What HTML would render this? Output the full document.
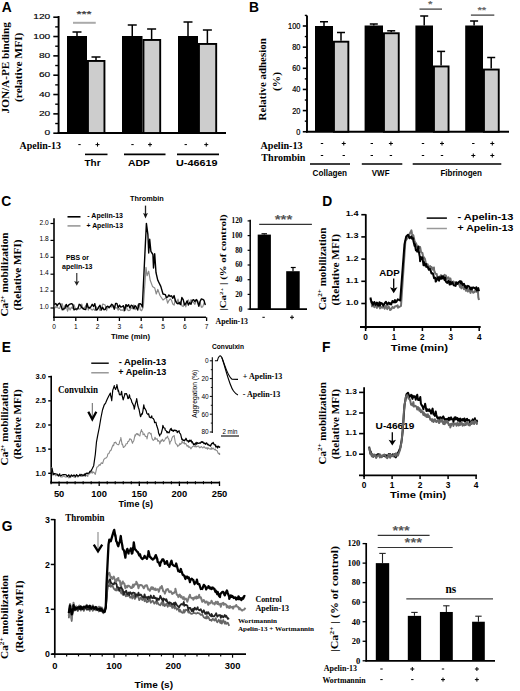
<!DOCTYPE html>
<html><head><meta charset="utf-8"><style>
html,body{margin:0;padding:0;background:#fff;}
svg{display:block;}
</style></head><body>
<svg width="520" height="691" viewBox="0 0 520 691" shape-rendering="auto">
<rect width="520" height="691" fill="#fff"/>
<text x="1.65" y="12" font-family="'Liberation Sans', sans-serif" font-size="13.8" font-weight="bold" fill="#000">A</text>
<line x1="58.6" y1="16" x2="58.6" y2="134" stroke="#000" stroke-width="1.9" stroke-linecap="butt"/>
<line x1="57.6" y1="133" x2="226" y2="133" stroke="#000" stroke-width="1.9" stroke-linecap="butt"/>
<line x1="53.3" y1="133.2" x2="58.6" y2="133.2" stroke="#000" stroke-width="1.6" stroke-linecap="butt"/>
<line x1="53.3" y1="113.87" x2="58.6" y2="113.87" stroke="#000" stroke-width="1.6" stroke-linecap="butt"/>
<line x1="53.3" y1="94.53" x2="58.6" y2="94.53" stroke="#000" stroke-width="1.6" stroke-linecap="butt"/>
<line x1="53.3" y1="75.2" x2="58.6" y2="75.2" stroke="#000" stroke-width="1.6" stroke-linecap="butt"/>
<line x1="53.3" y1="55.87" x2="58.6" y2="55.87" stroke="#000" stroke-width="1.6" stroke-linecap="butt"/>
<line x1="53.3" y1="36.53" x2="58.6" y2="36.53" stroke="#000" stroke-width="1.6" stroke-linecap="butt"/>
<line x1="53.3" y1="17.2" x2="58.6" y2="17.2" stroke="#000" stroke-width="1.6" stroke-linecap="butt"/>
<line x1="55.2" y1="123.53" x2="58.6" y2="123.53" stroke="#000" stroke-width="1.4" stroke-linecap="butt"/>
<line x1="55.2" y1="104.2" x2="58.6" y2="104.2" stroke="#000" stroke-width="1.4" stroke-linecap="butt"/>
<line x1="55.2" y1="84.87" x2="58.6" y2="84.87" stroke="#000" stroke-width="1.4" stroke-linecap="butt"/>
<line x1="55.2" y1="65.53" x2="58.6" y2="65.53" stroke="#000" stroke-width="1.4" stroke-linecap="butt"/>
<line x1="55.2" y1="46.2" x2="58.6" y2="46.2" stroke="#000" stroke-width="1.4" stroke-linecap="butt"/>
<line x1="55.2" y1="26.87" x2="58.6" y2="26.87" stroke="#000" stroke-width="1.4" stroke-linecap="butt"/>
<text x="44.55" y="135.4" font-family="'Liberation Sans', sans-serif" font-size="7.9" font-weight="normal" fill="#000" textLength="5.65" lengthAdjust="spacingAndGlyphs" stroke="#000" stroke-width="0.15">0</text>
<text x="38.9" y="116.07" font-family="'Liberation Sans', sans-serif" font-size="7.9" font-weight="normal" fill="#000" textLength="11.3" lengthAdjust="spacingAndGlyphs" stroke="#000" stroke-width="0.15">20</text>
<text x="38.9" y="96.73" font-family="'Liberation Sans', sans-serif" font-size="7.9" font-weight="normal" fill="#000" textLength="11.3" lengthAdjust="spacingAndGlyphs" stroke="#000" stroke-width="0.15">40</text>
<text x="38.9" y="77.4" font-family="'Liberation Sans', sans-serif" font-size="7.9" font-weight="normal" fill="#000" textLength="11.3" lengthAdjust="spacingAndGlyphs" stroke="#000" stroke-width="0.15">60</text>
<text x="38.9" y="58.07" font-family="'Liberation Sans', sans-serif" font-size="7.9" font-weight="normal" fill="#000" textLength="11.3" lengthAdjust="spacingAndGlyphs" stroke="#000" stroke-width="0.15">80</text>
<text x="33.25" y="38.73" font-family="'Liberation Sans', sans-serif" font-size="7.9" font-weight="normal" fill="#000" textLength="16.95" lengthAdjust="spacingAndGlyphs" stroke="#000" stroke-width="0.15">100</text>
<text x="33.25" y="19.4" font-family="'Liberation Sans', sans-serif" font-size="7.9" font-weight="normal" fill="#000" textLength="16.95" lengthAdjust="spacingAndGlyphs" stroke="#000" stroke-width="0.15">120</text>
<text transform="translate(9,113.4) rotate(-90)" x="0" y="0" font-family="'Liberation Serif', serif" font-size="10.3" font-weight="bold" fill="#000" textLength="91.2" lengthAdjust="spacingAndGlyphs">JON/A-PE binding</text>
<text transform="translate(21.6,102) rotate(-90)" x="0" y="0" font-family="'Liberation Serif', serif" font-size="10.3" font-weight="bold" fill="#000" textLength="69.4" lengthAdjust="spacingAndGlyphs">(relative MFI)</text>
<line x1="77" y1="36" x2="77" y2="32" stroke="#000" stroke-width="1.5" stroke-linecap="butt"/>
<line x1="72.5" y1="32" x2="81.5" y2="32" stroke="#000" stroke-width="1.5" stroke-linecap="butt"/>
<rect x="67" y="36" width="20" height="97" fill="#000"/>
<line x1="96" y1="60" x2="96" y2="57" stroke="#000" stroke-width="1.5" stroke-linecap="butt"/>
<line x1="91.5" y1="57" x2="100.5" y2="57" stroke="#000" stroke-width="1.5" stroke-linecap="butt"/>
<rect x="87.95" y="60.95" width="16.5" height="72.05" fill="#cdcdcd" stroke="#000" stroke-width="1.9"/>
<line x1="132.25" y1="36" x2="132.25" y2="25" stroke="#000" stroke-width="1.5" stroke-linecap="butt"/>
<line x1="127.75" y1="25" x2="136.75" y2="25" stroke="#000" stroke-width="1.5" stroke-linecap="butt"/>
<rect x="122" y="36" width="20.5" height="97" fill="#000"/>
<line x1="151.62" y1="39" x2="151.62" y2="29" stroke="#000" stroke-width="1.5" stroke-linecap="butt"/>
<line x1="147.12" y1="29" x2="156.12" y2="29" stroke="#000" stroke-width="1.5" stroke-linecap="butt"/>
<rect x="143.45" y="39.95" width="16.75" height="93.05" fill="#cdcdcd" stroke="#000" stroke-width="1.9"/>
<line x1="188" y1="36" x2="188" y2="22" stroke="#000" stroke-width="1.5" stroke-linecap="butt"/>
<line x1="183.5" y1="22" x2="192.5" y2="22" stroke="#000" stroke-width="1.5" stroke-linecap="butt"/>
<rect x="178" y="36" width="20" height="97" fill="#000"/>
<line x1="207.38" y1="43" x2="207.38" y2="30" stroke="#000" stroke-width="1.5" stroke-linecap="butt"/>
<line x1="202.88" y1="30" x2="211.88" y2="30" stroke="#000" stroke-width="1.5" stroke-linecap="butt"/>
<rect x="198.95" y="43.95" width="17.25" height="89.05" fill="#cdcdcd" stroke="#000" stroke-width="1.9"/>
<line x1="73" y1="22.8" x2="95.75" y2="22.8" stroke="#aaa" stroke-width="2" stroke-linecap="butt"/>
<text x="76.5" y="16.6" font-family="'Liberation Sans', sans-serif" font-size="9.5" font-weight="bold" fill="#444" textLength="15" lengthAdjust="spacingAndGlyphs">***</text>
<text x="19.5" y="149" font-family="'Liberation Serif', serif" font-size="9.5" font-weight="bold" fill="#000" textLength="41.5" lengthAdjust="spacingAndGlyphs">Apelin-13</text>
<line x1="78.3" y1="144.6" x2="80.7" y2="144.6" stroke="#000" stroke-width="1" stroke-linecap="butt"/>
<line x1="95.5" y1="144.6" x2="99.5" y2="144.6" stroke="#000" stroke-width="1" stroke-linecap="butt"/>
<line x1="97.5" y1="142.6" x2="97.5" y2="146.6" stroke="#000" stroke-width="1" stroke-linecap="butt"/>
<line x1="131.3" y1="144.6" x2="133.7" y2="144.6" stroke="#000" stroke-width="1" stroke-linecap="butt"/>
<line x1="148" y1="144.6" x2="152" y2="144.6" stroke="#000" stroke-width="1" stroke-linecap="butt"/>
<line x1="150" y1="142.6" x2="150" y2="146.6" stroke="#000" stroke-width="1" stroke-linecap="butt"/>
<line x1="184.55" y1="144.6" x2="186.95" y2="144.6" stroke="#000" stroke-width="1" stroke-linecap="butt"/>
<line x1="204.25" y1="144.6" x2="208.25" y2="144.6" stroke="#000" stroke-width="1" stroke-linecap="butt"/>
<line x1="206.25" y1="142.6" x2="206.25" y2="146.6" stroke="#000" stroke-width="1" stroke-linecap="butt"/>
<line x1="85" y1="154.4" x2="107.5" y2="154.4" stroke="#000" stroke-width="1.6" stroke-linecap="butt"/>
<line x1="124" y1="154.4" x2="165.5" y2="154.4" stroke="#000" stroke-width="1.6" stroke-linecap="butt"/>
<line x1="177" y1="154.4" x2="219" y2="154.4" stroke="#000" stroke-width="1.6" stroke-linecap="butt"/>
<text x="84.5" y="166.3" font-family="'Liberation Sans', sans-serif" font-size="9.5" font-weight="bold" fill="#000" textLength="16" lengthAdjust="spacingAndGlyphs">Thr</text>
<text x="128" y="166.4" font-family="'Liberation Sans', sans-serif" font-size="9.5" font-weight="bold" fill="#000" textLength="22" lengthAdjust="spacingAndGlyphs">ADP</text>
<text x="176" y="166.4" font-family="'Liberation Sans', sans-serif" font-size="9.5" font-weight="bold" fill="#000" textLength="41.5" lengthAdjust="spacingAndGlyphs">U-46619</text>
<text x="249.1" y="12.2" font-family="'Liberation Sans', sans-serif" font-size="13.8" font-weight="bold" fill="#000">B</text>
<line x1="307" y1="15.5" x2="307" y2="132.5" stroke="#000" stroke-width="1.9" stroke-linecap="butt"/>
<line x1="306" y1="131.75" x2="509" y2="131.75" stroke="#000" stroke-width="1.9" stroke-linecap="butt"/>
<line x1="302.8" y1="131.75" x2="307" y2="131.75" stroke="#000" stroke-width="1.6" stroke-linecap="butt"/>
<line x1="302.8" y1="110.6" x2="307" y2="110.6" stroke="#000" stroke-width="1.6" stroke-linecap="butt"/>
<line x1="302.8" y1="89.45" x2="307" y2="89.45" stroke="#000" stroke-width="1.6" stroke-linecap="butt"/>
<line x1="302.8" y1="68.3" x2="307" y2="68.3" stroke="#000" stroke-width="1.6" stroke-linecap="butt"/>
<line x1="302.8" y1="47.15" x2="307" y2="47.15" stroke="#000" stroke-width="1.6" stroke-linecap="butt"/>
<line x1="302.8" y1="26" x2="307" y2="26" stroke="#000" stroke-width="1.6" stroke-linecap="butt"/>
<line x1="304.8" y1="121.17" x2="307" y2="121.17" stroke="#000" stroke-width="1.4" stroke-linecap="butt"/>
<line x1="304.8" y1="100.03" x2="307" y2="100.03" stroke="#000" stroke-width="1.4" stroke-linecap="butt"/>
<line x1="304.8" y1="78.88" x2="307" y2="78.88" stroke="#000" stroke-width="1.4" stroke-linecap="butt"/>
<line x1="304.8" y1="57.72" x2="307" y2="57.72" stroke="#000" stroke-width="1.4" stroke-linecap="butt"/>
<line x1="304.8" y1="36.57" x2="307" y2="36.57" stroke="#000" stroke-width="1.4" stroke-linecap="butt"/>
<line x1="304.8" y1="15.42" x2="307" y2="15.42" stroke="#000" stroke-width="1.4" stroke-linecap="butt"/>
<text x="296.3" y="134.65" font-family="'Liberation Sans', sans-serif" font-size="8.2" font-weight="normal" fill="#000" textLength="4.1" lengthAdjust="spacingAndGlyphs" stroke="#000" stroke-width="0.2">0</text>
<text x="292.2" y="113.5" font-family="'Liberation Sans', sans-serif" font-size="8.2" font-weight="normal" fill="#000" textLength="8.2" lengthAdjust="spacingAndGlyphs" stroke="#000" stroke-width="0.2">20</text>
<text x="292.2" y="92.35" font-family="'Liberation Sans', sans-serif" font-size="8.2" font-weight="normal" fill="#000" textLength="8.2" lengthAdjust="spacingAndGlyphs" stroke="#000" stroke-width="0.2">40</text>
<text x="292.2" y="71.2" font-family="'Liberation Sans', sans-serif" font-size="8.2" font-weight="normal" fill="#000" textLength="8.2" lengthAdjust="spacingAndGlyphs" stroke="#000" stroke-width="0.2">60</text>
<text x="292.2" y="50.05" font-family="'Liberation Sans', sans-serif" font-size="8.2" font-weight="normal" fill="#000" textLength="8.2" lengthAdjust="spacingAndGlyphs" stroke="#000" stroke-width="0.2">80</text>
<text x="288.1" y="28.9" font-family="'Liberation Sans', sans-serif" font-size="8.2" font-weight="normal" fill="#000" textLength="12.3" lengthAdjust="spacingAndGlyphs" stroke="#000" stroke-width="0.2">100</text>
<text transform="translate(265.6,120.5) rotate(-90)" x="0" y="0" font-family="'Liberation Serif', serif" font-size="10.3" font-weight="bold" fill="#000" textLength="82.3" lengthAdjust="spacingAndGlyphs">Relative adhesion</text>
<text transform="translate(279.5,91) rotate(-90)" x="0" y="0" font-family="'Liberation Serif', serif" font-size="10.3" font-weight="bold" fill="#000" textLength="19" lengthAdjust="spacingAndGlyphs">(%)</text>
<line x1="324" y1="26" x2="324" y2="21.75" stroke="#000" stroke-width="1.5" stroke-linecap="butt"/>
<line x1="320" y1="21.75" x2="328" y2="21.75" stroke="#000" stroke-width="1.5" stroke-linecap="butt"/>
<rect x="315" y="26" width="18" height="105.75" fill="#000"/>
<line x1="341" y1="40.75" x2="341" y2="32.5" stroke="#000" stroke-width="1.5" stroke-linecap="butt"/>
<line x1="337" y1="32.5" x2="345" y2="32.5" stroke="#000" stroke-width="1.5" stroke-linecap="butt"/>
<rect x="333.95" y="41.7" width="14.4" height="90.05" fill="#cdcdcd" stroke="#000" stroke-width="1.9"/>
<line x1="373.8" y1="25.5" x2="373.8" y2="24" stroke="#000" stroke-width="1.5" stroke-linecap="butt"/>
<line x1="369.8" y1="24" x2="377.8" y2="24" stroke="#000" stroke-width="1.5" stroke-linecap="butt"/>
<rect x="364.6" y="25.5" width="18.4" height="106.25" fill="#000"/>
<line x1="391.2" y1="32.3" x2="391.2" y2="30.8" stroke="#000" stroke-width="1.5" stroke-linecap="butt"/>
<line x1="387.2" y1="30.8" x2="395.2" y2="30.8" stroke="#000" stroke-width="1.5" stroke-linecap="butt"/>
<rect x="383.95" y="33.25" width="14.8" height="98.5" fill="#cdcdcd" stroke="#000" stroke-width="1.9"/>
<line x1="424.2" y1="25.5" x2="424.2" y2="16" stroke="#000" stroke-width="1.5" stroke-linecap="butt"/>
<line x1="420.2" y1="16" x2="428.2" y2="16" stroke="#000" stroke-width="1.5" stroke-linecap="butt"/>
<rect x="415.4" y="25.5" width="17.6" height="106.25" fill="#000"/>
<line x1="441.1" y1="65.5" x2="441.1" y2="51.4" stroke="#000" stroke-width="1.5" stroke-linecap="butt"/>
<line x1="437.1" y1="51.4" x2="445.1" y2="51.4" stroke="#000" stroke-width="1.5" stroke-linecap="butt"/>
<rect x="433.95" y="66.45" width="14.6" height="65.3" fill="#cdcdcd" stroke="#000" stroke-width="1.9"/>
<line x1="474.1" y1="25.5" x2="474.1" y2="21" stroke="#000" stroke-width="1.5" stroke-linecap="butt"/>
<line x1="470.1" y1="21" x2="478.1" y2="21" stroke="#000" stroke-width="1.5" stroke-linecap="butt"/>
<rect x="465.2" y="25.5" width="17.8" height="106.25" fill="#000"/>
<line x1="491.2" y1="68.6" x2="491.2" y2="57.5" stroke="#000" stroke-width="1.5" stroke-linecap="butt"/>
<line x1="487.2" y1="57.5" x2="495.2" y2="57.5" stroke="#000" stroke-width="1.5" stroke-linecap="butt"/>
<rect x="483.95" y="69.55" width="14.8" height="62.2" fill="#cdcdcd" stroke="#000" stroke-width="1.9"/>
<line x1="419.5" y1="9.1" x2="442" y2="9.1" stroke="#333" stroke-width="1.2" stroke-linecap="butt"/>
<text x="428" y="6.9" font-family="'Liberation Sans', sans-serif" font-size="9.5" font-weight="bold" fill="#666" textLength="4.5" lengthAdjust="spacingAndGlyphs">*</text>
<line x1="470.9" y1="15.1" x2="494.3" y2="15.1" stroke="#333" stroke-width="1.2" stroke-linecap="butt"/>
<text x="477.4" y="12.5" font-family="'Liberation Sans', sans-serif" font-size="9.5" font-weight="bold" fill="#666" textLength="8.9" lengthAdjust="spacingAndGlyphs">**</text>
<text x="260.5" y="148.5" font-family="'Liberation Serif', serif" font-size="9.6" font-weight="bold" fill="#000" textLength="42" lengthAdjust="spacingAndGlyphs">Apelin-13</text>
<text x="261.25" y="160.5" font-family="'Liberation Serif', serif" font-size="9.6" font-weight="bold" fill="#000" textLength="44.25" lengthAdjust="spacingAndGlyphs">Thrombin</text>
<line x1="320.8" y1="143.5" x2="323.2" y2="143.5" stroke="#000" stroke-width="1" stroke-linecap="butt"/>
<line x1="341.75" y1="143.5" x2="345.75" y2="143.5" stroke="#000" stroke-width="1" stroke-linecap="butt"/>
<line x1="343.75" y1="141.5" x2="343.75" y2="145.5" stroke="#000" stroke-width="1" stroke-linecap="butt"/>
<line x1="370.6" y1="143.5" x2="373" y2="143.5" stroke="#000" stroke-width="1" stroke-linecap="butt"/>
<line x1="388.9" y1="143.5" x2="392.9" y2="143.5" stroke="#000" stroke-width="1" stroke-linecap="butt"/>
<line x1="390.9" y1="141.5" x2="390.9" y2="145.5" stroke="#000" stroke-width="1" stroke-linecap="butt"/>
<line x1="421.8" y1="143.5" x2="424.2" y2="143.5" stroke="#000" stroke-width="1" stroke-linecap="butt"/>
<line x1="440" y1="143.5" x2="444" y2="143.5" stroke="#000" stroke-width="1" stroke-linecap="butt"/>
<line x1="442" y1="141.5" x2="442" y2="145.5" stroke="#000" stroke-width="1" stroke-linecap="butt"/>
<line x1="472.1" y1="143.5" x2="474.5" y2="143.5" stroke="#000" stroke-width="1" stroke-linecap="butt"/>
<line x1="490.3" y1="143.5" x2="494.3" y2="143.5" stroke="#000" stroke-width="1" stroke-linecap="butt"/>
<line x1="492.3" y1="141.5" x2="492.3" y2="145.5" stroke="#000" stroke-width="1" stroke-linecap="butt"/>
<line x1="320.8" y1="155.5" x2="323.2" y2="155.5" stroke="#000" stroke-width="1" stroke-linecap="butt"/>
<line x1="342.55" y1="155.5" x2="344.95" y2="155.5" stroke="#000" stroke-width="1" stroke-linecap="butt"/>
<line x1="370.6" y1="155.5" x2="373" y2="155.5" stroke="#000" stroke-width="1" stroke-linecap="butt"/>
<line x1="389.7" y1="155.5" x2="392.1" y2="155.5" stroke="#000" stroke-width="1" stroke-linecap="butt"/>
<line x1="421.8" y1="155.5" x2="424.2" y2="155.5" stroke="#000" stroke-width="1" stroke-linecap="butt"/>
<line x1="440.8" y1="155.5" x2="443.2" y2="155.5" stroke="#000" stroke-width="1" stroke-linecap="butt"/>
<line x1="471.3" y1="155.5" x2="475.3" y2="155.5" stroke="#000" stroke-width="1" stroke-linecap="butt"/>
<line x1="473.3" y1="153.5" x2="473.3" y2="157.5" stroke="#000" stroke-width="1" stroke-linecap="butt"/>
<line x1="490.3" y1="155.5" x2="494.3" y2="155.5" stroke="#000" stroke-width="1" stroke-linecap="butt"/>
<line x1="492.3" y1="153.5" x2="492.3" y2="157.5" stroke="#000" stroke-width="1" stroke-linecap="butt"/>
<line x1="310" y1="164" x2="350" y2="164" stroke="#000" stroke-width="1.5" stroke-linecap="butt"/>
<line x1="361.8" y1="164" x2="402.3" y2="164" stroke="#000" stroke-width="1.5" stroke-linecap="butt"/>
<line x1="412.7" y1="164" x2="501.3" y2="164" stroke="#000" stroke-width="1.5" stroke-linecap="butt"/>
<text x="312.5" y="176" font-family="'Liberation Sans', sans-serif" font-size="8.6" font-weight="bold" fill="#000" textLength="34.5" lengthAdjust="spacingAndGlyphs">Collagen</text>
<text x="371.8" y="176" font-family="'Liberation Sans', sans-serif" font-size="8.6" font-weight="bold" fill="#000" textLength="17.7" lengthAdjust="spacingAndGlyphs">VWF</text>
<text x="440.4" y="176" font-family="'Liberation Sans', sans-serif" font-size="8.6" font-weight="bold" fill="#000" textLength="41.6" lengthAdjust="spacingAndGlyphs">Fibrinogen</text>
<text x="1.35" y="206.1" font-family="'Liberation Sans', sans-serif" font-size="13.8" font-weight="bold" fill="#000">C</text>
<line x1="54" y1="218.3" x2="54" y2="318" stroke="#000" stroke-width="1.6" stroke-linecap="butt"/>
<line x1="53.2" y1="317.3" x2="206" y2="317.3" stroke="#000" stroke-width="1.6" stroke-linecap="butt"/>
<line x1="50.5" y1="308" x2="54" y2="308" stroke="#000" stroke-width="1.2" stroke-linecap="butt"/>
<text x="39.6" y="309" font-family="'Liberation Sans', sans-serif" font-size="6.6" font-weight="normal" fill="#000" textLength="9.2" lengthAdjust="spacingAndGlyphs">1.0</text>
<line x1="50.5" y1="291.1" x2="54" y2="291.1" stroke="#000" stroke-width="1.2" stroke-linecap="butt"/>
<text x="39.6" y="292.1" font-family="'Liberation Sans', sans-serif" font-size="6.6" font-weight="normal" fill="#000" textLength="9.2" lengthAdjust="spacingAndGlyphs">1.2</text>
<line x1="50.5" y1="274.2" x2="54" y2="274.2" stroke="#000" stroke-width="1.2" stroke-linecap="butt"/>
<text x="39.6" y="275.2" font-family="'Liberation Sans', sans-serif" font-size="6.6" font-weight="normal" fill="#000" textLength="9.2" lengthAdjust="spacingAndGlyphs">1.4</text>
<line x1="50.5" y1="257.3" x2="54" y2="257.3" stroke="#000" stroke-width="1.2" stroke-linecap="butt"/>
<text x="39.6" y="258.3" font-family="'Liberation Sans', sans-serif" font-size="6.6" font-weight="normal" fill="#000" textLength="9.2" lengthAdjust="spacingAndGlyphs">1.6</text>
<line x1="50.5" y1="240.4" x2="54" y2="240.4" stroke="#000" stroke-width="1.2" stroke-linecap="butt"/>
<text x="39.6" y="241.4" font-family="'Liberation Sans', sans-serif" font-size="6.6" font-weight="normal" fill="#000" textLength="9.2" lengthAdjust="spacingAndGlyphs">1.8</text>
<line x1="50.5" y1="223.5" x2="54" y2="223.5" stroke="#000" stroke-width="1.2" stroke-linecap="butt"/>
<text x="39.6" y="224.5" font-family="'Liberation Sans', sans-serif" font-size="6.6" font-weight="normal" fill="#000" textLength="9.2" lengthAdjust="spacingAndGlyphs">2.0</text>
<line x1="54" y1="317.3" x2="54" y2="321" stroke="#000" stroke-width="1.3" stroke-linecap="butt"/>
<text x="54" y="329" font-family="'Liberation Sans', sans-serif" font-size="6.6" font-weight="normal" fill="#000" text-anchor="middle">0</text>
<line x1="75.8" y1="317.3" x2="75.8" y2="321" stroke="#000" stroke-width="1.3" stroke-linecap="butt"/>
<text x="75.8" y="329" font-family="'Liberation Sans', sans-serif" font-size="6.6" font-weight="normal" fill="#000" text-anchor="middle">1</text>
<line x1="97.6" y1="317.3" x2="97.6" y2="321" stroke="#000" stroke-width="1.3" stroke-linecap="butt"/>
<text x="97.6" y="329" font-family="'Liberation Sans', sans-serif" font-size="6.6" font-weight="normal" fill="#000" text-anchor="middle">2</text>
<line x1="119.4" y1="317.3" x2="119.4" y2="321" stroke="#000" stroke-width="1.3" stroke-linecap="butt"/>
<text x="119.4" y="329" font-family="'Liberation Sans', sans-serif" font-size="6.6" font-weight="normal" fill="#000" text-anchor="middle">3</text>
<line x1="141.2" y1="317.3" x2="141.2" y2="321" stroke="#000" stroke-width="1.3" stroke-linecap="butt"/>
<text x="141.2" y="329" font-family="'Liberation Sans', sans-serif" font-size="6.6" font-weight="normal" fill="#000" text-anchor="middle">4</text>
<line x1="163" y1="317.3" x2="163" y2="321" stroke="#000" stroke-width="1.3" stroke-linecap="butt"/>
<text x="163" y="329" font-family="'Liberation Sans', sans-serif" font-size="6.6" font-weight="normal" fill="#000" text-anchor="middle">5</text>
<line x1="184.8" y1="317.3" x2="184.8" y2="321" stroke="#000" stroke-width="1.3" stroke-linecap="butt"/>
<text x="184.8" y="329" font-family="'Liberation Sans', sans-serif" font-size="6.6" font-weight="normal" fill="#000" text-anchor="middle">6</text>
<line x1="206.6" y1="317.3" x2="206.6" y2="321" stroke="#000" stroke-width="1.3" stroke-linecap="butt"/>
<text x="206.6" y="329" font-family="'Liberation Sans', sans-serif" font-size="6.6" font-weight="normal" fill="#000" text-anchor="middle">7</text>
<text x="111" y="338.5" font-family="'Liberation Sans', sans-serif" font-size="8" font-weight="bold" fill="#000" textLength="39" lengthAdjust="spacingAndGlyphs">Time (min)</text>
<text transform="translate(8,316.6) rotate(-90)" x="0" y="0" font-family="'Liberation Serif', serif" font-size="9.8" font-weight="bold" fill="#000" textLength="84.2" lengthAdjust="spacingAndGlyphs">Ca<tspan font-size="6" dy="-3.5">2+</tspan><tspan dy="3.5"> mobilization</tspan></text>
<text transform="translate(21.4,310.5) rotate(-90)" x="0" y="0" font-family="'Liberation Serif', serif" font-size="9.8" font-weight="bold" fill="#000" textLength="71" lengthAdjust="spacingAndGlyphs">(Relative MFI)</text>
<line x1="67.5" y1="216.8" x2="80.5" y2="216.8" stroke="#000" stroke-width="1.6" stroke-linecap="butt"/>
<line x1="67.5" y1="225.9" x2="80.5" y2="225.9" stroke="#999" stroke-width="1.6" stroke-linecap="butt"/>
<text x="87.3" y="218.4" font-family="'Liberation Sans', sans-serif" font-size="7.5" font-weight="bold" fill="#000" textLength="35.7" lengthAdjust="spacingAndGlyphs">- Apelin-13</text>
<text x="86.5" y="228.1" font-family="'Liberation Sans', sans-serif" font-size="7.5" font-weight="bold" fill="#000" textLength="36.5" lengthAdjust="spacingAndGlyphs">+ Apelin-13</text>
<text x="66" y="260" font-family="'Liberation Sans', sans-serif" font-size="7.2" font-weight="bold" fill="#000" textLength="23" lengthAdjust="spacingAndGlyphs">PBS or</text>
<text x="62" y="269" font-family="'Liberation Sans', sans-serif" font-size="7.2" font-weight="bold" fill="#000" textLength="30.5" lengthAdjust="spacingAndGlyphs">apelin-13</text>
<line x1="76.75" y1="273.1" x2="76.75" y2="281.9" stroke="#444" stroke-width="1.3" stroke-linecap="butt"/>
<path d="M74.15,280.9 L76.75,285.7 L79.35,280.9 L76.75,281.9 Z" fill="#222"/>
<text x="130" y="201.1" font-family="'Liberation Sans', sans-serif" font-size="7.8" font-weight="bold" fill="#000" textLength="33.75" lengthAdjust="spacingAndGlyphs">Thrombin</text>
<line x1="145.5" y1="205.6" x2="145.5" y2="214.1" stroke="#222" stroke-width="1.3" stroke-linecap="butt"/>
<path d="M143.1,213.1 L145.5,218.6 L147.9,213.1 L145.5,214.1 Z" fill="#111"/>
<polyline points="54.5,305.51 55.8,307.83 57.1,306.5 58.4,308.27 59.7,308.43 61,304.16 62.3,303.76 63.6,310.01 64.9,305.61 66.2,305.42 67.5,311.19 68.8,307.19 70.1,309.97 71.4,307.23 72.7,308.45 74,304.73 75.3,308.41 76.6,310.17 77.9,307.54 79.2,309.19 80.5,308.66 81.8,304.03 83.1,309.3 84.4,308.02 85.7,305.81 87,303.75 88.3,310.09 89.6,307.1 90.9,308.96 92.2,310.17 93.5,308.91 94.8,310.47 96.1,306.47 97.4,309.55 98.7,306.83 100,310.55 101.3,310.12 102.6,304.17 103.9,304.46 105.2,305.06 106.5,310.74 107.8,306.71 109.1,308.16 110.4,305.67 111.7,307.23 113,306.3 114.3,306.03 115.6,307.8 116.9,307.79 118.2,310.21 119.5,308.52 120.8,310.39 122.1,309.83 123.4,310.84 124.7,308.41 126,304.54 127.3,309.83 128.6,310.61 129.9,310.15 131.2,307.59 132.5,308.69 133.8,304.86 135.1,309.57 136.4,307.6 137.7,305.4 139,303.71 140.3,309.71 141.6,310.73 143.3,307 146,267.4 147.1,275.7 148.7,271.2 150.2,280.3 152.5,286.4 154.7,287.9 156.3,294 157.8,289.4 160,295.5 163,300 166.3,297.56 167.6,303.24 168.9,300.55 170.2,298.85 171.5,300.2 172.8,304.08 174.1,305.15 175.4,299.06 176.7,303.45 178,299.19 179.3,304.37 180.6,301.49 181.9,305.73 183.2,306.55 184.5,303.01 185.8,306.82 187.1,301.65 188.4,299.94 189.7,303.98 191,299.72 192.3,301.05 193.6,302.71 194.9,304.32 196.2,300.93 197.5,300.13 198.8,306.46 200.1,302.32 201.4,307.28 202.7,306.87 204,302.99 205.3,303.68" fill="none" stroke="#8a8a8a" stroke-width="1.2" stroke-linejoin="round"/>
<polyline points="54.5,304.49 55.8,303.49 57.1,305.72 58.4,303.9 59.7,303.24 61,305.79 62.3,309.72 63.6,308.84 64.9,308.57 66.2,304.45 67.5,306.85 68.8,304.88 70.1,304.1 71.4,303.6 72.7,304.43 74,309.86 75.3,309.12 76.6,308.96 77.9,308.92 79.2,304.31 80.5,305.2 81.8,307.62 83.1,308.43 84.4,309.37 85.7,309.57 87,303.54 88.3,307.5 89.6,308 90.9,306.75 92.2,304.27 93.5,306.52 94.8,303.61 96.1,310.04 97.4,309.52 98.7,307.11 100,305.24 101.3,309.87 102.6,307.32 103.9,309.69 105.2,309.43 106.5,306.86 107.8,306.15 109.1,307.56 110.4,306.29 111.7,304.25 113,305.35 114.3,309.22 115.6,303.38 116.9,303.41 118.2,307.82 119.5,305.2 120.8,307.14 122.1,306.67 123.4,305.7 124.7,310.68 126,304.59 127.3,306.25 128.6,304.66 129.9,307.94 131.2,305.24 132.5,305.85 133.8,308.83 135.1,305.6 136.4,307.41 137.7,310.05 139,303.95 140.3,303.66 141.6,304.94 142.3,307 146.4,223.4 147.9,234.7 148.7,253 149.7,239.3 150.9,251.4 152.9,254.5 153.5,268 154.7,253.7 156,272.7 157.8,280.3 160.8,286.4 163,294 165.4,294.7 166.3,297.3 167.6,297.01 168.9,294.99 170.2,296.48 171.5,295.74 172.8,298.31 174.1,295.58 175.4,300.98 176.7,302.92 178,303.8 179.3,302.55 180.6,304.54 181.9,297.49 183.2,299.65 184.5,304.89 185.8,303.54 187.1,300.87 188.4,305.03 189.7,302.67 191,304.28 192.3,300.39 193.6,299.72 194.9,301.74 196.2,299.5 197.5,301.47 198.8,305.98 200.1,301.29 201.4,298.94 202.7,299.31 204,300.36 205.3,305.13" fill="none" stroke="#000" stroke-width="1.4" stroke-linejoin="round"/>
<line x1="250.2" y1="219.8" x2="250.2" y2="309.8" stroke="#000" stroke-width="1.5" stroke-linecap="butt"/>
<line x1="249.5" y1="309.1" x2="307" y2="309.1" stroke="#000" stroke-width="1.6" stroke-linecap="butt"/>
<line x1="247.6" y1="309.1" x2="250.2" y2="309.1" stroke="#000" stroke-width="1.2" stroke-linecap="butt"/>
<text x="238.85" y="311.5" font-family="'Liberation Serif', serif" font-size="7.4" font-weight="bold" fill="#000" textLength="3.65" lengthAdjust="spacingAndGlyphs">0</text>
<line x1="247.6" y1="294.4" x2="250.2" y2="294.4" stroke="#000" stroke-width="1.2" stroke-linecap="butt"/>
<text x="235.2" y="296.8" font-family="'Liberation Serif', serif" font-size="7.4" font-weight="bold" fill="#000" textLength="7.3" lengthAdjust="spacingAndGlyphs">20</text>
<line x1="247.6" y1="279.7" x2="250.2" y2="279.7" stroke="#000" stroke-width="1.2" stroke-linecap="butt"/>
<text x="235.2" y="282.1" font-family="'Liberation Serif', serif" font-size="7.4" font-weight="bold" fill="#000" textLength="7.3" lengthAdjust="spacingAndGlyphs">40</text>
<line x1="247.6" y1="265" x2="250.2" y2="265" stroke="#000" stroke-width="1.2" stroke-linecap="butt"/>
<text x="235.2" y="267.4" font-family="'Liberation Serif', serif" font-size="7.4" font-weight="bold" fill="#000" textLength="7.3" lengthAdjust="spacingAndGlyphs">60</text>
<line x1="247.6" y1="250.3" x2="250.2" y2="250.3" stroke="#000" stroke-width="1.2" stroke-linecap="butt"/>
<text x="235.2" y="252.7" font-family="'Liberation Serif', serif" font-size="7.4" font-weight="bold" fill="#000" textLength="7.3" lengthAdjust="spacingAndGlyphs">80</text>
<line x1="247.6" y1="235.6" x2="250.2" y2="235.6" stroke="#000" stroke-width="1.2" stroke-linecap="butt"/>
<text x="231.55" y="238" font-family="'Liberation Serif', serif" font-size="7.4" font-weight="bold" fill="#000" textLength="10.95" lengthAdjust="spacingAndGlyphs">100</text>
<line x1="247.6" y1="220.9" x2="250.2" y2="220.9" stroke="#000" stroke-width="1.2" stroke-linecap="butt"/>
<text x="231.55" y="223.3" font-family="'Liberation Serif', serif" font-size="7.4" font-weight="bold" fill="#000" textLength="10.95" lengthAdjust="spacingAndGlyphs">120</text>
<rect x="257.7" y="234.6" width="13.2" height="74.5" fill="#000"/>
<line x1="264.3" y1="234.6" x2="264.3" y2="233.8" stroke="#000" stroke-width="1.2" stroke-linecap="butt"/>
<line x1="261.5" y1="233.8" x2="267" y2="233.8" stroke="#000" stroke-width="1.2" stroke-linecap="butt"/>
<rect x="286.2" y="271.2" width="13.5" height="37.9" fill="#000"/>
<line x1="293" y1="271.2" x2="293" y2="267.5" stroke="#000" stroke-width="1.2" stroke-linecap="butt"/>
<line x1="290.8" y1="267.5" x2="295.7" y2="267.5" stroke="#000" stroke-width="1.2" stroke-linecap="butt"/>
<line x1="259.2" y1="224.4" x2="311.9" y2="224.4" stroke="#333" stroke-width="1.1" stroke-linecap="butt"/>
<text x="274.7" y="223.5" font-family="'Liberation Sans', sans-serif" font-size="12" font-weight="bold" fill="#555" textLength="17.7" lengthAdjust="spacingAndGlyphs">***</text>
<line x1="262.4" y1="317.3" x2="264.8" y2="317.3" stroke="#000" stroke-width="1" stroke-linecap="butt"/>
<line x1="290" y1="317.3" x2="294" y2="317.3" stroke="#000" stroke-width="1" stroke-linecap="butt"/>
<line x1="292" y1="315.3" x2="292" y2="319.3" stroke="#000" stroke-width="1" stroke-linecap="butt"/>
<text x="215.6" y="323.5" font-family="'Liberation Serif', serif" font-size="7.6" font-weight="bold" fill="#000" textLength="32.4" lengthAdjust="spacingAndGlyphs">Apelin-13</text>
<text transform="translate(225.6,310.6) rotate(-90)" x="0" y="0" font-family="'Liberation Serif', serif" font-size="8" font-weight="bold" fill="#000" textLength="96.2" lengthAdjust="spacingAndGlyphs">|Ca<tspan font-size="5" dy="-3">2+</tspan><tspan dy="3"> | (% of control)</tspan></text>
<text x="322.2" y="206.4" font-family="'Liberation Sans', sans-serif" font-size="13.8" font-weight="bold" fill="#000">D</text>
<line x1="365.8" y1="214.2" x2="365.8" y2="329" stroke="#000" stroke-width="1.8" stroke-linecap="butt"/>
<line x1="360" y1="327" x2="480.7" y2="327" stroke="#000" stroke-width="1.8" stroke-linecap="butt"/>
<line x1="361.3" y1="303.5" x2="365.8" y2="303.5" stroke="#000" stroke-width="1.6" stroke-linecap="butt"/>
<text x="345.8" y="304.9" font-family="'Liberation Sans', sans-serif" font-size="7.8" font-weight="bold" fill="#000" textLength="12.7" lengthAdjust="spacingAndGlyphs">1.0</text>
<line x1="361.3" y1="281.3" x2="365.8" y2="281.3" stroke="#000" stroke-width="1.6" stroke-linecap="butt"/>
<text x="345.8" y="282.7" font-family="'Liberation Sans', sans-serif" font-size="7.8" font-weight="bold" fill="#000" textLength="12.7" lengthAdjust="spacingAndGlyphs">1.1</text>
<line x1="361.3" y1="259.1" x2="365.8" y2="259.1" stroke="#000" stroke-width="1.6" stroke-linecap="butt"/>
<text x="345.8" y="260.5" font-family="'Liberation Sans', sans-serif" font-size="7.8" font-weight="bold" fill="#000" textLength="12.7" lengthAdjust="spacingAndGlyphs">1.2</text>
<line x1="361.3" y1="236.9" x2="365.8" y2="236.9" stroke="#000" stroke-width="1.6" stroke-linecap="butt"/>
<text x="345.8" y="238.3" font-family="'Liberation Sans', sans-serif" font-size="7.8" font-weight="bold" fill="#000" textLength="12.7" lengthAdjust="spacingAndGlyphs">1.3</text>
<line x1="361.3" y1="214.7" x2="365.8" y2="214.7" stroke="#000" stroke-width="1.6" stroke-linecap="butt"/>
<text x="345.8" y="216.1" font-family="'Liberation Sans', sans-serif" font-size="7.8" font-weight="bold" fill="#000" textLength="12.7" lengthAdjust="spacingAndGlyphs">1.4</text>
<line x1="365.6" y1="327" x2="365.6" y2="331" stroke="#000" stroke-width="1.5" stroke-linecap="butt"/>
<text x="365.6" y="339.7" font-family="'Liberation Sans', sans-serif" font-size="8.2" font-weight="bold" fill="#000" text-anchor="middle">0</text>
<line x1="394" y1="327" x2="394" y2="331" stroke="#000" stroke-width="1.5" stroke-linecap="butt"/>
<text x="394" y="339.7" font-family="'Liberation Sans', sans-serif" font-size="8.2" font-weight="bold" fill="#000" text-anchor="middle">1</text>
<line x1="422.4" y1="327" x2="422.4" y2="331" stroke="#000" stroke-width="1.5" stroke-linecap="butt"/>
<text x="422.4" y="339.7" font-family="'Liberation Sans', sans-serif" font-size="8.2" font-weight="bold" fill="#000" text-anchor="middle">2</text>
<line x1="450.8" y1="327" x2="450.8" y2="331" stroke="#000" stroke-width="1.5" stroke-linecap="butt"/>
<text x="450.8" y="339.7" font-family="'Liberation Sans', sans-serif" font-size="8.2" font-weight="bold" fill="#000" text-anchor="middle">3</text>
<line x1="479.2" y1="327" x2="479.2" y2="331" stroke="#000" stroke-width="1.5" stroke-linecap="butt"/>
<text x="479.2" y="339.7" font-family="'Liberation Sans', sans-serif" font-size="8.2" font-weight="bold" fill="#000" text-anchor="middle">4</text>
<text x="390.8" y="351.2" font-family="'Liberation Sans', sans-serif" font-size="9" font-weight="bold" fill="#000" textLength="57.2" lengthAdjust="spacingAndGlyphs">Time (min)</text>
<text transform="translate(326.2,310.3) rotate(-90)" x="0" y="0" font-family="'Liberation Serif', serif" font-size="10" font-weight="bold" fill="#000" textLength="82.8" lengthAdjust="spacingAndGlyphs">Ca<tspan font-size="6.5" dy="-3.8">2+</tspan><tspan dy="3.8"> mobilization</tspan></text>
<text transform="translate(339.2,305.6) rotate(-90)" x="0" y="0" font-family="'Liberation Serif', serif" font-size="10" font-weight="bold" fill="#000" textLength="71.6" lengthAdjust="spacingAndGlyphs">(Relative MFI)</text>
<line x1="426.7" y1="218.1" x2="446.9" y2="218.1" stroke="#000" stroke-width="1.5" stroke-linecap="butt"/>
<line x1="426.7" y1="228.5" x2="446.9" y2="228.5" stroke="#999" stroke-width="1.5" stroke-linecap="butt"/>
<text x="457.5" y="220.4" font-family="'Liberation Sans', sans-serif" font-size="9" font-weight="bold" fill="#000" textLength="55.8" lengthAdjust="spacingAndGlyphs">- Apelin-13</text>
<text x="457.5" y="231" font-family="'Liberation Sans', sans-serif" font-size="9" font-weight="bold" fill="#000" textLength="55.8" lengthAdjust="spacingAndGlyphs">+ Apelin-13</text>
<text x="379.2" y="275.8" font-family="'Liberation Sans', sans-serif" font-size="9" font-weight="bold" fill="#000" textLength="20.4" lengthAdjust="spacingAndGlyphs">ADP</text>
<line x1="393.7" y1="278.6" x2="393.7" y2="288.5" stroke="#000" stroke-width="1.3" stroke-linecap="butt"/>
<path d="M389.95,287.2 L393.7,293.3 L397.45,287.2 L393.7,288.5 Z" fill="#000"/>
<polyline points="370.4,298.7 371.7,302.92 372,306.34 373,304.03 374.3,307.24 375.6,305.01 376.9,307.92 378.2,306.08 379.5,304.93 380,308.38 380.8,306.66 382.1,307.71 383.4,306.55 384.7,308.61 386,305.85 387.3,309.15 388.6,306.4 389.9,308.84 390,309.99 391.2,309.38 392.5,306.92 393.8,308.04 395.1,306.32 396.4,306.18 397.7,305.28 398,307.74 401,306 405.4,240.8 408,237.3 411.4,230.4 412,233.55 413.2,237.44 413.3,235.28 414.6,241.31 415.9,243.33 416.6,244.69 417.2,247.39 418.5,246.73 419.8,248.54 420.1,246.88 421.1,252.37 422.4,253 423.5,258.57 423.7,257.11 425,259.16 426.3,265.56 427,264.27 427.6,264.16 428.9,268.21 430.2,266.04 430.5,267.93 431.5,267.01 432.8,269.55 433.9,267.44 434.1,270.42 435.4,273.7 436.7,273.97 437.4,278.15 438,279.14 439.3,276.57 440.6,279.03 440.8,275.18 441.9,275.63 443.2,277.45 444.5,274.82 445.2,278.23 445.8,275.39 447.1,278.85 448.4,277.3 449.7,280.49 450.4,278.44 451,281.44 452.3,282.17 453.6,281.46 454.9,283.64 455.6,282.61 456.2,284.51 457.5,282.72 458.8,283.75 460.1,287.19 460.8,285.74 461.4,288.36 462.7,285.21 464,289.22 465.3,286.88 466,290.8 466.6,287.83 467.9,291.59 469.2,288.87 470.5,292.91 471.2,289.9 471.8,289.5 473.1,292.73 474.4,292.15 475.7,289.59 476.3,291.87 477,290.52 478,292.19 478.3,297.21 479,299.97" fill="none" stroke="#6e6e6e" stroke-width="2" stroke-linejoin="round"/>
<polyline points="370.4,297.55 371.7,302.88 372,302 373,304.82 374.3,301.93 375.6,304.91 376.9,302.51 378.2,305.62 379.5,302.23 380,305.5 380.8,302.91 382.1,303.47 383.4,305.69 384.7,303.22 386,301.79 387.3,304.71 388.6,302.67 389.9,304.17 390,303.02 391.2,304.49 392.5,300.93 393.8,302.38 395,300.05 395.1,302.44 396.4,301.87 397.7,299.34 399.5,300.2 400.2,300.5 404.5,244.2 406.2,236.4 408,234.7 409.7,238.2 411.4,236.4 412,238.74 413.2,238.22 413.3,240.63 414.6,245.96 414.9,244.28 415.9,250.23 416.6,250.02 417.2,251.6 418.4,246.42 418.5,249.93 419.8,256.82 420.1,261.22 421.1,257.14 421.8,258.05 422.4,257.42 423.5,265.23 423.7,261.61 425,265.45 426.1,263.94 426.3,266.88 427.6,266.74 428.9,269.73 429.6,268.81 430.2,269.09 431.5,273.46 432.8,273.29 433.1,273.98 434.1,278.3 435.4,277.8 435.7,281.61 436.7,280.09 438,277.29 439.1,280.71 439.3,277.16 440.6,278.56 441.7,276.29 441.9,278.76 443.2,276.4 444.5,279.97 445.2,277.73 445.8,281.5 447.1,282.92 448.4,280.79 449.7,284.57 450.4,281.87 451,284.28 452.3,282.19 453.6,285.23 454.9,285.57 455.6,285.86 456.2,282.14 457.5,283.94 458.8,282.05 460.1,281.03 460.8,283.7 461.4,281.54 462.7,284.9 464,283.9 465.3,287.52 466,286.06 466.6,288.31 467.9,285.77 469.2,286.66 470.5,289.25 471.2,287.61 471.8,289.25 473.1,287.38 474.4,287.89 475.7,289.15 476.3,287.21 477,290.64 478.3,288.12 479,291.24" fill="none" stroke="#000" stroke-width="2" stroke-linejoin="round"/>
<text x="1.7" y="352" font-family="'Liberation Sans', sans-serif" font-size="13.8" font-weight="bold" fill="#000">E</text>
<line x1="51.2" y1="375.8" x2="51.2" y2="483.3" stroke="#000" stroke-width="1.6" stroke-linecap="butt"/>
<line x1="50.5" y1="482.6" x2="220" y2="482.6" stroke="#000" stroke-width="1.6" stroke-linecap="butt"/>
<line x1="48.2" y1="473.3" x2="51.2" y2="473.3" stroke="#000" stroke-width="1.4" stroke-linecap="butt"/>
<text x="35.5" y="475.8" font-family="'Liberation Sans', sans-serif" font-size="7.7" font-weight="bold" fill="#000" textLength="10.4" lengthAdjust="spacingAndGlyphs">1.0</text>
<line x1="48.2" y1="449.15" x2="51.2" y2="449.15" stroke="#000" stroke-width="1.4" stroke-linecap="butt"/>
<text x="35.5" y="451.65" font-family="'Liberation Sans', sans-serif" font-size="7.7" font-weight="bold" fill="#000" textLength="10.4" lengthAdjust="spacingAndGlyphs">1.5</text>
<line x1="48.2" y1="425" x2="51.2" y2="425" stroke="#000" stroke-width="1.4" stroke-linecap="butt"/>
<text x="35.5" y="427.5" font-family="'Liberation Sans', sans-serif" font-size="7.7" font-weight="bold" fill="#000" textLength="10.4" lengthAdjust="spacingAndGlyphs">2.0</text>
<line x1="48.2" y1="400.85" x2="51.2" y2="400.85" stroke="#000" stroke-width="1.4" stroke-linecap="butt"/>
<text x="35.5" y="403.35" font-family="'Liberation Sans', sans-serif" font-size="7.7" font-weight="bold" fill="#000" textLength="10.4" lengthAdjust="spacingAndGlyphs">2.5</text>
<line x1="48.2" y1="376.7" x2="51.2" y2="376.7" stroke="#000" stroke-width="1.4" stroke-linecap="butt"/>
<text x="35.5" y="379.2" font-family="'Liberation Sans', sans-serif" font-size="7.7" font-weight="bold" fill="#000" textLength="10.4" lengthAdjust="spacingAndGlyphs">3.0</text>
<line x1="51.08" y1="481.2" x2="51.08" y2="484.2" stroke="#000" stroke-width="1.1" stroke-linecap="butt"/>
<line x1="67.12" y1="481.2" x2="67.12" y2="484.2" stroke="#000" stroke-width="1.1" stroke-linecap="butt"/>
<line x1="75.14" y1="481.2" x2="75.14" y2="484.2" stroke="#000" stroke-width="1.1" stroke-linecap="butt"/>
<line x1="83.16" y1="481.2" x2="83.16" y2="484.2" stroke="#000" stroke-width="1.1" stroke-linecap="butt"/>
<line x1="91.18" y1="481.2" x2="91.18" y2="484.2" stroke="#000" stroke-width="1.1" stroke-linecap="butt"/>
<line x1="107.22" y1="481.2" x2="107.22" y2="484.2" stroke="#000" stroke-width="1.1" stroke-linecap="butt"/>
<line x1="115.24" y1="481.2" x2="115.24" y2="484.2" stroke="#000" stroke-width="1.1" stroke-linecap="butt"/>
<line x1="123.26" y1="481.2" x2="123.26" y2="484.2" stroke="#000" stroke-width="1.1" stroke-linecap="butt"/>
<line x1="131.28" y1="481.2" x2="131.28" y2="484.2" stroke="#000" stroke-width="1.1" stroke-linecap="butt"/>
<line x1="147.32" y1="481.2" x2="147.32" y2="484.2" stroke="#000" stroke-width="1.1" stroke-linecap="butt"/>
<line x1="155.34" y1="481.2" x2="155.34" y2="484.2" stroke="#000" stroke-width="1.1" stroke-linecap="butt"/>
<line x1="163.36" y1="481.2" x2="163.36" y2="484.2" stroke="#000" stroke-width="1.1" stroke-linecap="butt"/>
<line x1="171.38" y1="481.2" x2="171.38" y2="484.2" stroke="#000" stroke-width="1.1" stroke-linecap="butt"/>
<line x1="187.42" y1="481.2" x2="187.42" y2="484.2" stroke="#000" stroke-width="1.1" stroke-linecap="butt"/>
<line x1="195.44" y1="481.2" x2="195.44" y2="484.2" stroke="#000" stroke-width="1.1" stroke-linecap="butt"/>
<line x1="203.46" y1="481.2" x2="203.46" y2="484.2" stroke="#000" stroke-width="1.1" stroke-linecap="butt"/>
<line x1="211.48" y1="481.2" x2="211.48" y2="484.2" stroke="#000" stroke-width="1.1" stroke-linecap="butt"/>
<line x1="59.1" y1="481.5" x2="59.1" y2="486" stroke="#000" stroke-width="1.3" stroke-linecap="butt"/>
<text x="59.1" y="497" font-family="'Liberation Sans', sans-serif" font-size="9.4" font-weight="bold" fill="#000" text-anchor="middle">50</text>
<line x1="99.2" y1="481.5" x2="99.2" y2="486" stroke="#000" stroke-width="1.3" stroke-linecap="butt"/>
<text x="99.2" y="497" font-family="'Liberation Sans', sans-serif" font-size="9.4" font-weight="bold" fill="#000" text-anchor="middle">100</text>
<line x1="139.3" y1="481.5" x2="139.3" y2="486" stroke="#000" stroke-width="1.3" stroke-linecap="butt"/>
<text x="139.3" y="497" font-family="'Liberation Sans', sans-serif" font-size="9.4" font-weight="bold" fill="#000" text-anchor="middle">150</text>
<line x1="179.4" y1="481.5" x2="179.4" y2="486" stroke="#000" stroke-width="1.3" stroke-linecap="butt"/>
<text x="179.4" y="497" font-family="'Liberation Sans', sans-serif" font-size="9.4" font-weight="bold" fill="#000" text-anchor="middle">200</text>
<line x1="219.5" y1="481.5" x2="219.5" y2="486" stroke="#000" stroke-width="1.3" stroke-linecap="butt"/>
<text x="219.5" y="497" font-family="'Liberation Sans', sans-serif" font-size="9.4" font-weight="bold" fill="#000" text-anchor="middle">250</text>
<text x="118.5" y="507" font-family="'Liberation Sans', sans-serif" font-size="8.6" font-weight="bold" fill="#000" textLength="34.5" lengthAdjust="spacingAndGlyphs">Time (s)</text>
<text transform="translate(8,465.4) rotate(-90)" x="0" y="0" font-family="'Liberation Serif', serif" font-size="9.8" font-weight="bold" fill="#000" textLength="83.1" lengthAdjust="spacingAndGlyphs">Ca<tspan font-size="6" dy="-3.5">2+</tspan><tspan dy="3.5"> mobilization</tspan></text>
<text transform="translate(21.4,459.3) rotate(-90)" x="0" y="0" font-family="'Liberation Serif', serif" font-size="9.8" font-weight="bold" fill="#000" textLength="69.9" lengthAdjust="spacingAndGlyphs">(Relative MFI)</text>
<text x="58.1" y="392.9" font-family="'Liberation Serif', serif" font-size="9.5" font-weight="bold" fill="#000" textLength="40" lengthAdjust="spacingAndGlyphs">Convulxin</text>
<line x1="92.3" y1="403" x2="92.3" y2="418.2" stroke="#666" stroke-width="1" stroke-linecap="butt"/>
<polyline points="88.3,411.7 92.3,419.2 96.3,411.7" fill="none" stroke="#000" stroke-width="2.3" stroke-linejoin="miter" stroke-miterlimit="10"/>
<line x1="91.25" y1="363.2" x2="108.75" y2="363.2" stroke="#000" stroke-width="1.4" stroke-linecap="butt"/>
<line x1="91.25" y1="372.8" x2="108.75" y2="372.8" stroke="#888" stroke-width="1.3" stroke-linecap="butt"/>
<text x="118.7" y="365.4" font-family="'Liberation Sans', sans-serif" font-size="8.6" font-weight="bold" fill="#000" textLength="47.6" lengthAdjust="spacingAndGlyphs">- Apelin-13</text>
<text x="118.3" y="375.2" font-family="'Liberation Sans', sans-serif" font-size="8.6" font-weight="bold" fill="#000" textLength="48" lengthAdjust="spacingAndGlyphs">+ Apelin-13</text>
<polyline points="51.9,467.1 53,475.7 53.2,474.03 54.5,474.48 55.8,475.87 57.1,474.99 58.4,476.08 59.7,475.49 60,476.28 61,477.05 62.3,477.06 63.6,475.8 64.9,476.84 66.2,477.21 67.5,475.73 68.8,478.01 70,476.23 70.1,477.7 71.4,476.58 72.7,476.26 74,477.04 75.3,477.57 76.6,475.37 77.9,477.15 79.2,475.38 80,475.57 80.5,474.89 81.8,476.54 83.1,475.31 84.4,475.27 85.7,476.18 87,474.63 87.7,476.51 88.3,473.98 89.6,473.91 89.8,471.96 90.9,472.98 92.2,471.19 92.3,473.11 93.7,472 95.3,474.4 96.9,467.2 98.1,466.5 99.3,464.56 100,465.4 101.3,462.8 102.5,463.39 102.6,463.53 103.9,459.44 104.9,458.49 105.2,458.19 106.5,457.64 107.3,456.5 107.8,454.09 108.9,453.6 109.1,452.92 110.4,450.36 111.2,450.2 111.7,448.24 113,445.02 113.6,445.7 114.3,442.44 115.2,442.74 115.6,442.16 116.8,444 116.9,444.12 118.2,444.86 119.2,443.94 119.5,442 120.8,438.85 120.8,437.44 122.1,444.61 122.4,443.94 123.4,447.49 124,447.04 124.7,446.43 125.6,445.33 126,443.77 127.3,443.71 127.9,441.44 128.6,441.42 129.9,438.68 130.3,439.02 131.2,439.48 132.5,443.28 132.7,442.32 133.8,440.73 135.1,434.71 135.1,436.37 136.4,433.61 137.5,434.71 137.7,433.65 139,435.34 139.9,435.92 140.3,433.26 141.5,429.57 141.6,430.89 142.9,432.37 143,434.71 144.2,433.82 145.4,436.42 145.5,436.18 146.8,437.01 147,438.91 148.1,433.25 148.6,432.97 149.4,432.54 150.7,434.28 151,433.19 152,438.26 152.6,439.54 153.3,440.39 154.6,439.05 155,437.23 155.9,439.31 157.2,438.74 157.7,441.1 158.5,440.55 159.7,442.11 159.8,443.93 161.1,440.15 161.7,441.3 162.4,439.28 163.7,441.23 163.7,441.57 165,439.41 165.8,437.86 166.3,438.25 167.6,436.19 167.8,437.45 168.9,439.36 169.8,444.26 170.2,441.84 171.5,440.47 171.8,438.51 172.8,436.45 173.8,436.05 174.1,435.45 175.4,442.98 175.9,443.8 176.7,444.27 177.9,446.63 178,445.32 179.3,445.32 179.9,443.24 180.6,444.47 181.9,442.62 181.9,440.98 183.2,443.2 184.5,442.58 184.6,443.86 185.8,443.52 187.1,446.18 188,445.43 188.4,447.16 189.7,446.9 191,448.88 191.3,448.04 192.3,446.79 193.6,445.9 194.9,446.93 195.4,444.7 196.2,447.03 197.5,446.19 198.8,446.08 199.4,447.79 200.1,447.66 201.4,446.52 202.7,447.94 203.5,447.41 204,446.54 205.3,448.15 206.6,447.89 207.5,449.22 207.9,447.63 209.2,448.84 210.5,449.26 211.5,447.6 211.8,449.34 213.1,447.97 214.4,449.7 215.6,449.05 215.7,450.31 217,450.49 218.3,453.56 218.3,453.61 219.6,453.35 219.6,454.91" fill="none" stroke="#8a8a8a" stroke-width="1.1" stroke-linejoin="round"/>
<polyline points="51.9,468.07 53,472.8 53.2,474.38 54.5,473.64 55.8,473.94 57.1,474.04 58.4,475.91 59.7,473.83 60,475.29 61,475.91 62.3,474.81 63.6,474.56 64.9,474.51 66.2,474.84 67.5,476.58 68.8,474.72 70,476.99 70.1,476.85 71.4,474.83 72.7,476.15 74,474.85 75.3,476.6 76.6,474.6 77.9,476.08 79.2,475.62 80,474.2 80.5,475.83 81.8,474.42 83.1,475.87 84.4,473.98 85,475.85 85.7,473.6 87,473.14 88.3,473.33 89.6,472.54 89.8,471.42 90.9,471.12 92.2,468.8 93.7,465.7 95.3,454.5 96.5,441.8 97.7,435.4 99.3,427.5 100.9,418 102.5,410 104.1,405.2 105.7,402.8 107.3,398.9 108.9,395.7 110.4,393.02 110.4,394.3 111.7,399.97 111.7,400.69 112.8,389.87 113,389.62 114.3,385.68 114.4,386.9 115.6,389.45 116,388.36 116.8,385.88 116.9,384.62 118.2,391.35 118.4,390.18 119.5,394.77 120,394.8 120.8,394.6 121.6,391.33 122.1,395.32 123.2,399.92 123.4,399.2 124.7,394.83 124.8,393.66 126,393.85 126.4,393.54 127.3,395.74 127.9,398.63 128.6,398.21 129.5,394.74 129.9,397.44 131.2,399.7 131.9,402.3 132.5,403.21 133.8,406.21 134.3,409.12 135.1,404.95 136.4,400.36 136.7,398.66 137.7,405.02 138.3,407.26 139,409.23 140.3,415.87 140.7,416.65 141.6,413.75 142.3,414.21 142.9,411.09 143.8,404.95 144.2,407.35 145.5,409.57 146.2,410.87 146.8,413.42 148.1,414.56 148.6,413.72 149.4,417.01 150.2,417.57 150.7,417.79 151.8,415.93 152,417.96 153.3,418.56 154.2,420.29 154.6,422.61 155.9,422.22 156.6,425.31 157.2,427.03 158.2,430.29 158.5,432.72 159.8,436.04 159.8,434.45 161.1,433.89 161.3,433.24 162.4,428.91 162.9,425.35 163.7,427.71 165,428.3 165.1,429.86 166.3,430.88 167.1,432.86 167.6,431.6 168.9,432.88 169.1,432.83 170.2,429.44 171.2,428.3 171.5,430.37 172.8,430.13 173.2,431.47 174.1,430 175.2,430.79 175.4,430.22 176.7,430.62 177.2,432.61 178,431.41 179.2,430.8 179.3,432.69 180.6,434.1 180.6,434.12 181.9,439.51 181.9,438.68 183.2,440.59 183.9,439.95 184.5,440.85 185.8,438.87 186,438.2 187.1,440.95 188,440.56 188.4,442.06 189.7,440.19 190,441.52 191,440.02 192,442.77 192.3,441.65 193.6,444.75 194,443.58 194.9,444.74 196.2,442.33 196.7,444.28 197.5,442.64 198.8,443.46 199.4,442.82 200.1,443.27 201.4,441.7 202.1,442.63 202.7,441.65 204,443.55 204.8,442.85 205.3,444.36 206.6,442.82 207.5,444.79 207.9,444.01 209.2,445.69 210.2,445.08 210.5,446.17 211.8,443.29 212.9,443.56 213.1,442.24 214.4,444.96 215.6,444.77 215.7,446.99 217,446.15 217.6,448.04 218.3,446.09 219.6,447.38 219.6,446.32" fill="none" stroke="#000" stroke-width="1.2" stroke-linejoin="round"/>
<text x="228" y="348.5" font-family="'Liberation Sans', sans-serif" font-size="6.6" font-weight="bold" fill="#000" text-anchor="middle">Convulxin</text>
<line x1="212.3" y1="357.2" x2="212.3" y2="432.9" stroke="#000" stroke-width="1.1" stroke-linecap="butt"/>
<line x1="209.8" y1="360.8" x2="212.3" y2="360.8" stroke="#000" stroke-width="1" stroke-linecap="butt"/>
<text x="205" y="363.1" font-family="'Liberation Sans', sans-serif" font-size="6.6" font-weight="normal" fill="#000" textLength="3.6" lengthAdjust="spacingAndGlyphs">0</text>
<line x1="209.8" y1="378.6" x2="212.3" y2="378.6" stroke="#000" stroke-width="1" stroke-linecap="butt"/>
<text x="201.4" y="380.9" font-family="'Liberation Sans', sans-serif" font-size="6.6" font-weight="normal" fill="#000" textLength="7.2" lengthAdjust="spacingAndGlyphs">20</text>
<line x1="209.8" y1="396.4" x2="212.3" y2="396.4" stroke="#000" stroke-width="1" stroke-linecap="butt"/>
<text x="201.4" y="398.7" font-family="'Liberation Sans', sans-serif" font-size="6.6" font-weight="normal" fill="#000" textLength="7.2" lengthAdjust="spacingAndGlyphs">40</text>
<line x1="209.8" y1="414.2" x2="212.3" y2="414.2" stroke="#000" stroke-width="1" stroke-linecap="butt"/>
<text x="201.4" y="416.5" font-family="'Liberation Sans', sans-serif" font-size="6.6" font-weight="normal" fill="#000" textLength="7.2" lengthAdjust="spacingAndGlyphs">60</text>
<line x1="209.8" y1="432" x2="212.3" y2="432" stroke="#000" stroke-width="1" stroke-linecap="butt"/>
<text x="201.4" y="434.3" font-family="'Liberation Sans', sans-serif" font-size="6.6" font-weight="normal" fill="#000" textLength="7.2" lengthAdjust="spacingAndGlyphs">80</text>
<line x1="210.8" y1="369.7" x2="212.3" y2="369.7" stroke="#000" stroke-width="0.9" stroke-linecap="butt"/>
<line x1="210.8" y1="387.5" x2="212.3" y2="387.5" stroke="#000" stroke-width="0.9" stroke-linecap="butt"/>
<line x1="210.8" y1="405.3" x2="212.3" y2="405.3" stroke="#000" stroke-width="0.9" stroke-linecap="butt"/>
<line x1="210.8" y1="423.1" x2="212.3" y2="423.1" stroke="#000" stroke-width="0.9" stroke-linecap="butt"/>
<text transform="translate(197.3,417.7) rotate(-90)" x="0" y="0" font-family="'Liberation Sans', sans-serif" font-size="6.6" font-weight="normal" fill="#000" textLength="47.8" lengthAdjust="spacingAndGlyphs">Aggregation (%)</text>
<path d="M214.9,360.8 L217.3,360.8 C218.5,356 220.3,354.2 221.8,357.5 C224,362 227.5,376.5 232,379.2 L238,379.4" fill="none" stroke="#000" stroke-width="1.1"/>
<path d="M221.8,357.5 C225,366 229,385 233.5,391 C235,393 236.5,394.5 238,395" fill="none" stroke="#000" stroke-width="1.1"/>
<text x="242.8" y="379.3" font-family="'Liberation Serif', serif" font-size="8.8" font-weight="bold" fill="#000" textLength="39.5" lengthAdjust="spacingAndGlyphs">+ Apelin-13</text>
<text x="242.8" y="396.5" font-family="'Liberation Serif', serif" font-size="8.8" font-weight="bold" fill="#000" textLength="37.5" lengthAdjust="spacingAndGlyphs">- Apelin-13</text>
<text x="222.4" y="434" font-family="'Liberation Sans', sans-serif" font-size="6.6" font-weight="normal" fill="#000" textLength="15.1" lengthAdjust="spacingAndGlyphs">2 min</text>
<line x1="221" y1="436" x2="239" y2="436" stroke="#000" stroke-width="1.1" stroke-linecap="butt"/>
<text x="321.9" y="352" font-family="'Liberation Sans', sans-serif" font-size="13.8" font-weight="bold" fill="#000">F</text>
<line x1="364.1" y1="387.3" x2="364.1" y2="477" stroke="#000" stroke-width="1.8" stroke-linecap="butt"/>
<line x1="359" y1="475.3" x2="477" y2="475.3" stroke="#000" stroke-width="1.8" stroke-linecap="butt"/>
<line x1="359.1" y1="454.2" x2="364.1" y2="454.2" stroke="#000" stroke-width="1.6" stroke-linecap="butt"/>
<text x="345.2" y="455.8" font-family="'Liberation Sans', sans-serif" font-size="7.8" font-weight="bold" fill="#000" textLength="11.7" lengthAdjust="spacingAndGlyphs">1.0</text>
<line x1="359.1" y1="433.6" x2="364.1" y2="433.6" stroke="#000" stroke-width="1.6" stroke-linecap="butt"/>
<text x="345.2" y="435.2" font-family="'Liberation Sans', sans-serif" font-size="7.8" font-weight="bold" fill="#000" textLength="11.7" lengthAdjust="spacingAndGlyphs">1.1</text>
<line x1="359.1" y1="413" x2="364.1" y2="413" stroke="#000" stroke-width="1.6" stroke-linecap="butt"/>
<text x="345.2" y="414.6" font-family="'Liberation Sans', sans-serif" font-size="7.8" font-weight="bold" fill="#000" textLength="11.7" lengthAdjust="spacingAndGlyphs">1.2</text>
<line x1="359.1" y1="392.4" x2="364.1" y2="392.4" stroke="#000" stroke-width="1.6" stroke-linecap="butt"/>
<text x="345.2" y="394" font-family="'Liberation Sans', sans-serif" font-size="7.8" font-weight="bold" fill="#000" textLength="11.7" lengthAdjust="spacingAndGlyphs">1.3</text>
<line x1="364.1" y1="475.3" x2="364.1" y2="479" stroke="#000" stroke-width="1.5" stroke-linecap="butt"/>
<text x="364.1" y="488" font-family="'Liberation Sans', sans-serif" font-size="8.4" font-weight="bold" fill="#000" text-anchor="middle">0</text>
<line x1="392.1" y1="475.3" x2="392.1" y2="479" stroke="#000" stroke-width="1.5" stroke-linecap="butt"/>
<text x="392.1" y="488" font-family="'Liberation Sans', sans-serif" font-size="8.4" font-weight="bold" fill="#000" text-anchor="middle">1</text>
<line x1="420.1" y1="475.3" x2="420.1" y2="479" stroke="#000" stroke-width="1.5" stroke-linecap="butt"/>
<text x="420.1" y="488" font-family="'Liberation Sans', sans-serif" font-size="8.4" font-weight="bold" fill="#000" text-anchor="middle">2</text>
<line x1="448.1" y1="475.3" x2="448.1" y2="479" stroke="#000" stroke-width="1.5" stroke-linecap="butt"/>
<text x="448.1" y="488" font-family="'Liberation Sans', sans-serif" font-size="8.4" font-weight="bold" fill="#000" text-anchor="middle">3</text>
<line x1="476.1" y1="475.3" x2="476.1" y2="479" stroke="#000" stroke-width="1.5" stroke-linecap="butt"/>
<text x="476.1" y="488" font-family="'Liberation Sans', sans-serif" font-size="8.4" font-weight="bold" fill="#000" text-anchor="middle">4</text>
<text x="390" y="497.6" font-family="'Liberation Sans', sans-serif" font-size="9" font-weight="bold" fill="#000" textLength="56.3" lengthAdjust="spacingAndGlyphs">Time (min)</text>
<text transform="translate(326.2,464.5) rotate(-90)" x="0" y="0" font-family="'Liberation Serif', serif" font-size="10" font-weight="bold" fill="#000" textLength="82.4" lengthAdjust="spacingAndGlyphs">Ca<tspan font-size="6.5" dy="-3.8">2+</tspan><tspan dy="3.8"> mobilization</tspan></text>
<text transform="translate(338.8,459.3) rotate(-90)" x="0" y="0" font-family="'Liberation Serif', serif" font-size="10" font-weight="bold" fill="#000" textLength="70.2" lengthAdjust="spacingAndGlyphs">(Relative MFI)</text>
<text x="375.6" y="428.6" font-family="'Liberation Sans', sans-serif" font-size="9" font-weight="bold" fill="#000" textLength="38.8" lengthAdjust="spacingAndGlyphs">U-46619</text>
<line x1="392.3" y1="432.2" x2="392.3" y2="440.9" stroke="#000" stroke-width="1.3" stroke-linecap="butt"/>
<path d="M388.6,439.7 L392.3,445.5 L396,439.7 L392.3,440.9 Z" fill="#000"/>
<polyline points="369.1,446.63 370.5,453.9 370.6,451.2 371.9,455.33 372.5,456.11 373.3,456.74 374.7,454.93 376.1,456.02 377.5,454.25 378.9,454.29 380,455.35 380.3,456.52 381.7,456.44 383.1,455.46 384.5,456.19 385.9,455.11 387.3,457.33 388.7,454.03 390,456.68 390.1,454.01 391.5,455.89 392.9,454.21 394.3,456.42 395,454.04 395.7,457.38 396.5,456.03 398.5,452 400.4,447.3 401.8,439.6 402.8,430 404.5,405 406.5,394.2 408,392.7 409.5,396.95 409.7,395.87 411,395.91 411.1,394.73 412.5,398.89 412.6,395.57 413.9,397.17 414.2,396.25 415.3,396.69 415.7,399.7 416.7,396.16 417.2,394.71 418.1,399.93 418.8,399.84 419.5,400.01 420.3,397.07 420.9,403.64 421.8,405.69 422.3,405.53 423.4,409.28 423.7,407.44 424.9,405.48 425.1,403.8 426.5,411.08 426.5,408.54 427.9,410.19 428,410.79 429.3,409.19 429.5,411.23 430.7,410.59 431.1,413.6 432.1,410.35 432.6,408.63 433.5,414.43 434.2,414.14 434.9,415.91 435.7,411.55 436.3,414.7 437.2,417.58 437.7,418.45 439.1,417.35 439.5,419.89 440.5,417.3 441.8,419.08 441.9,418.05 443.3,416.41 444.2,418.73 444.7,419.68 446.1,418.95 446.5,421.04 447.5,418.77 448.8,420.49 448.9,417.73 450.3,419.45 451.1,417.34 451.7,419.34 453.1,419.18 453.4,421.98 454.5,417.55 455.7,417.35 455.9,419.41 457.3,418.01 458,420.72 458.7,418.84 460.1,422.02 460.3,418.61 461.5,420.35 462.6,419.03 462.9,420.67 464.3,418.46 464.9,421.64 465.7,419.65 467.1,418.84 467.2,420.67 468.5,420.12 469.5,420.13 469.9,422.66 471.3,421.97 471.8,421.26 472.7,419.31 474.1,421.3 474.9,418.33 475.5,421.34 476.9,420.61 477.2,421.96" fill="none" stroke="#000" stroke-width="2" stroke-linejoin="round"/>
<polyline points="369.1,447.42 370.5,454.16 370.6,452.42 371.9,456.32 372.5,453.91 373.3,456.23 374.7,454.68 376.1,457.97 377.5,455.73 378.9,455.31 380,457.43 380.3,454.56 381.7,457.16 383.1,455.07 384.5,454.53 385.9,456.93 387.3,458.12 388.7,454.49 390,454.56 390.1,457.66 391.5,455.04 392.9,456.27 394.3,454.35 395.7,456.08 396,453.26 398,455.5 400,450 401.5,442 402.5,432 404,410 405.7,397.3 407.2,395 408.8,398.8 409.7,399.06 410.3,400.84 411.1,404.84 411.8,404.33 412.5,405.45 413.4,402.13 413.9,406.55 414.9,406.06 415.3,405.8 416.7,407.01 417.2,409.58 418.1,407.14 419.5,410.79 419.5,408.23 420.9,412.22 421.1,410.16 422.3,411.37 423.4,414.96 423.7,412.5 425.1,415.83 425.7,414.22 426.5,416.88 427.9,414.28 428,417.11 429.3,416.08 430.3,419.82 430.7,418.83 432.1,421.12 432.6,419.22 433.5,422.07 434.9,419.49 434.9,419.32 436.3,422.01 437.7,420.32 438,420.66 439.1,423 440.5,419.59 441.1,421.61 441.9,419.73 443.3,423.97 444.2,421.17 444.7,424.13 446.1,420.91 447.2,422.71 447.5,421.02 448.9,425.21 450.3,424.15 450.3,427.52 451.7,423.69 453.1,423.54 453.4,425.9 454.5,423.44 455.9,423.83 456.5,425.74 457.3,423.08 458.7,425.53 459.5,422.7 460.1,424.96 461.5,422.57 462.6,425.69 462.9,423.68 464.3,425.34 465.7,423.1 465.7,425.11 467.1,421.96 468.5,425.18 468.8,423.43 469.9,425.4 471.3,422.04 471.8,424.02 472.7,421.47 474.1,424.01 474.9,420.67 475.5,421.18 476.9,423.95 477,421.75" fill="none" stroke="#666" stroke-width="2" stroke-linejoin="round"/>
<text x="1.75" y="530.5" font-family="'Liberation Sans', sans-serif" font-size="13.8" font-weight="bold" fill="#000">G</text>
<line x1="54.8" y1="519" x2="54.8" y2="655" stroke="#000" stroke-width="1.7" stroke-linecap="butt"/>
<line x1="51.7" y1="654.2" x2="246" y2="654.2" stroke="#000" stroke-width="1.8" stroke-linecap="butt"/>
<line x1="50.8" y1="654.2" x2="54.8" y2="654.2" stroke="#000" stroke-width="1.5" stroke-linecap="butt"/>
<text x="45.1" y="657.4" font-family="'Liberation Sans', sans-serif" font-size="9.4" font-weight="bold" fill="#000" textLength="4.9" lengthAdjust="spacingAndGlyphs">0</text>
<line x1="50.8" y1="609.33" x2="54.8" y2="609.33" stroke="#000" stroke-width="1.5" stroke-linecap="butt"/>
<text x="45.1" y="612.53" font-family="'Liberation Sans', sans-serif" font-size="9.4" font-weight="bold" fill="#000" textLength="4.9" lengthAdjust="spacingAndGlyphs">1</text>
<line x1="50.8" y1="564.46" x2="54.8" y2="564.46" stroke="#000" stroke-width="1.5" stroke-linecap="butt"/>
<text x="45.1" y="567.66" font-family="'Liberation Sans', sans-serif" font-size="9.4" font-weight="bold" fill="#000" textLength="4.9" lengthAdjust="spacingAndGlyphs">2</text>
<line x1="50.8" y1="519.59" x2="54.8" y2="519.59" stroke="#000" stroke-width="1.5" stroke-linecap="butt"/>
<text x="45.1" y="522.79" font-family="'Liberation Sans', sans-serif" font-size="9.4" font-weight="bold" fill="#000" textLength="4.9" lengthAdjust="spacingAndGlyphs">3</text>
<line x1="54.8" y1="654.2" x2="54.8" y2="657.7" stroke="#000" stroke-width="1.2" stroke-linecap="butt"/>
<line x1="66.65" y1="654.2" x2="66.65" y2="656.4" stroke="#000" stroke-width="1.2" stroke-linecap="butt"/>
<line x1="78.5" y1="654.2" x2="78.5" y2="656.4" stroke="#000" stroke-width="1.2" stroke-linecap="butt"/>
<line x1="90.35" y1="654.2" x2="90.35" y2="656.4" stroke="#000" stroke-width="1.2" stroke-linecap="butt"/>
<line x1="102.2" y1="654.2" x2="102.2" y2="656.4" stroke="#000" stroke-width="1.2" stroke-linecap="butt"/>
<line x1="114.05" y1="654.2" x2="114.05" y2="657.7" stroke="#000" stroke-width="1.2" stroke-linecap="butt"/>
<line x1="125.9" y1="654.2" x2="125.9" y2="656.4" stroke="#000" stroke-width="1.2" stroke-linecap="butt"/>
<line x1="137.75" y1="654.2" x2="137.75" y2="656.4" stroke="#000" stroke-width="1.2" stroke-linecap="butt"/>
<line x1="149.6" y1="654.2" x2="149.6" y2="656.4" stroke="#000" stroke-width="1.2" stroke-linecap="butt"/>
<line x1="161.45" y1="654.2" x2="161.45" y2="656.4" stroke="#000" stroke-width="1.2" stroke-linecap="butt"/>
<line x1="173.3" y1="654.2" x2="173.3" y2="657.7" stroke="#000" stroke-width="1.2" stroke-linecap="butt"/>
<line x1="185.15" y1="654.2" x2="185.15" y2="656.4" stroke="#000" stroke-width="1.2" stroke-linecap="butt"/>
<line x1="197" y1="654.2" x2="197" y2="656.4" stroke="#000" stroke-width="1.2" stroke-linecap="butt"/>
<line x1="208.85" y1="654.2" x2="208.85" y2="656.4" stroke="#000" stroke-width="1.2" stroke-linecap="butt"/>
<line x1="220.7" y1="654.2" x2="220.7" y2="656.4" stroke="#000" stroke-width="1.2" stroke-linecap="butt"/>
<line x1="232.55" y1="654.2" x2="232.55" y2="657.7" stroke="#000" stroke-width="1.2" stroke-linecap="butt"/>
<text x="54.8" y="668.9" font-family="'Liberation Sans', sans-serif" font-size="9.4" font-weight="bold" fill="#000" text-anchor="middle">0</text>
<text x="114.05" y="668.9" font-family="'Liberation Sans', sans-serif" font-size="9.4" font-weight="bold" fill="#000" text-anchor="middle">100</text>
<text x="173.3" y="668.9" font-family="'Liberation Sans', sans-serif" font-size="9.4" font-weight="bold" fill="#000" text-anchor="middle">200</text>
<text x="232.55" y="668.9" font-family="'Liberation Sans', sans-serif" font-size="9.4" font-weight="bold" fill="#000" text-anchor="middle">300</text>
<text x="134.6" y="687.7" font-family="'Liberation Sans', sans-serif" font-size="9.6" font-weight="bold" fill="#000" textLength="38.4" lengthAdjust="spacingAndGlyphs">Time (s)</text>
<text transform="translate(8.2,658.9) rotate(-90)" x="0" y="0" font-family="'Liberation Serif', serif" font-size="10.2" font-weight="bold" fill="#000" textLength="84" lengthAdjust="spacingAndGlyphs">Ca<tspan font-size="6.5" dy="-3.8">2+</tspan><tspan dy="3.8"> mobilization</tspan></text>
<text transform="translate(22.6,652.4) rotate(-90)" x="0" y="0" font-family="'Liberation Serif', serif" font-size="10.2" font-weight="bold" fill="#000" textLength="72" lengthAdjust="spacingAndGlyphs">(Relative MFI)</text>
<text x="65.3" y="520.7" font-family="'Liberation Serif', serif" font-size="9.6" font-weight="bold" fill="#000" textLength="39.1" lengthAdjust="spacingAndGlyphs">Thrombin</text>
<line x1="98" y1="531.9" x2="98" y2="550.3" stroke="#888" stroke-width="1.1" stroke-linecap="butt"/>
<polyline points="93.8,544.6 98,551.3 102.2,544.6" fill="none" stroke="#000" stroke-width="2.3" stroke-linejoin="miter" stroke-miterlimit="10"/>
<polyline points="68.8,618.23 70,606.86 70.3,606.14 71.7,621.01 71.8,617.96 73.3,609.9 73.5,608.1 74.6,609.36 74.8,610.63 76.3,608.29 77.8,611.06 79.3,607.34 80,608.25 80.8,610.57 82.3,607.53 83.8,610.86 85.3,607.03 86.8,609.91 88.3,607.63 89.8,610.82 90,609.88 91.3,607.66 92.8,610.74 94.3,608.4 95.8,610.2 97.3,608.16 98.8,611.47 100,608.19 100.3,611.05 101.8,610.28 103.3,613.21 104.6,612 105.8,608 107.7,586 109.3,586.21 110,582.54 110.8,586.87 112.3,585.4 113.8,588.72 115.3,590.24 116.8,587.86 116.9,590.49 118.3,588.79 119.8,590.05 121.3,593.37 121.5,590.16 122.8,594.71 124.3,591.97 125.8,596.32 126.2,594.34 127.3,596.05 128.8,595.35 130.3,597.65 131.8,595.91 132.3,598.48 133.3,595.17 134.8,598.94 136.3,596.45 137.8,596.06 138.5,597.55 139.3,600.17 140.8,597.53 142.3,599.93 143.8,598.08 144.6,601.22 145.3,599.15 146.8,602.23 148.3,601.49 149.8,599.07 150.8,602.73 151.3,602.01 152.8,600.77 154.3,603.65 155.8,601.44 156.9,603.77 157.3,601.91 158.8,604.5 160.3,605.27 161.8,602.07 163.1,605.53 163.3,602.42 164.8,606.03 166.3,603.66 167.8,606.74 169.3,603.46 170,606.04 170.8,604.41 172.3,607.87 173.8,606.2 174.6,608.46 175.3,606.67 176.8,609.72 178.3,608.21 179.2,611.55 179.8,609.51 181.3,612.29 182.8,612.94 183.8,609.96 184.3,612.52 185.8,609.76 187.3,610.03 188.5,612.5 188.8,611.11 190.3,613.36 191.8,613.83 193.1,613.26 193.3,612.93 194.8,613.19 196.3,613.64 197.7,612.64 197.8,613.13 199.3,613.29 200.8,614.84 202.3,614.55 203.8,617.36 205.3,618.33 206.8,615.85 206.9,618.5 208.3,616.9 209.8,620.15 211.3,619.93 211.5,620.81 212.8,618.71 214.3,620.53 215.8,618.17 216.2,620.55 217.3,622.35 218.8,619.8 220.3,622.94 220.8,620.06 221.8,623.56 223.3,620.02 224.8,623.64 225.4,621.58 226.3,623.84 227.8,622.68 229.2,625.91" fill="none" stroke="#666" stroke-width="1.8" stroke-linejoin="round"/>
<polyline points="68.8,611.6 70,607.68 70.3,606.72 71.7,612.51 71.8,613.01 73.3,605.69 73.5,606.65 74.6,607.86 74.8,610.17 76.3,609.05 77.8,609.77 79.3,607.55 80,607.16 80.8,608.5 82.3,609.23 83.8,609.41 85.3,606.24 86.8,609.15 88.3,609.25 89.8,609.19 90,607.57 91.3,608.97 92.8,607.72 94.3,609.41 95.8,607.98 97.3,609.76 98.8,607.61 100,610.74 100.3,608.22 101.8,611.19 103.3,612.22 104.6,611.5 105.8,607 107.7,583.1 109.3,580.15 110,579.32 110.8,582.53 112.3,583.85 113.8,584.3 114.6,582.31 115.3,582 116.8,584.97 116.9,586.92 118.3,587.29 119.2,590.85 119.8,588.13 121.3,586.74 121.5,588.13 122.8,589.88 123.8,594.77 124.3,592.58 125.8,591.43 126.2,590.7 127.3,594.25 128.8,592.47 129.2,595.08 130.3,592.28 131.8,594.28 132.3,593.04 133.3,592.68 134.8,593.19 135.4,596.68 136.3,594.36 137.8,595.3 138.5,592.68 139.3,595.45 140.8,594.48 141.5,595.34 142.3,596.96 143.8,597.51 144.6,594.34 145.3,597.56 146.8,597.06 147.7,599.65 148.3,596.57 149.8,598.08 150.8,595.49 151.3,597.71 152.8,598.2 153.8,595.79 154.3,598.08 155.8,597.69 156.9,600.68 157.3,598.33 158.8,599.76 160,597.36 160.3,595.88 161.8,599.25 163.1,601.18 163.3,598.51 164.8,599.37 166.2,600.98 166.3,599.07 167.8,602.98 169.2,603.6 169.3,602.27 170.8,602.74 172.3,604.81 173.8,603.04 174.6,605.49 175.3,602.44 176.8,605 178.3,606.65 179.2,607.09 179.8,605.79 181.3,604 182.8,604.59 183.8,602.02 184.3,605.79 185.8,604.83 187.3,605.51 188.5,609.89 188.8,607.81 190.3,607.89 191.8,611.01 193.1,608.8 193.3,611.52 194.8,607.7 196.3,609.58 197.7,607.17 197.8,609.1 199.3,610.26 200.8,609.27 202.3,612.7 203.8,610.32 205.3,613.93 206.8,612.14 206.9,613.89 208.3,612.11 209.8,615.07 211.3,616.33 211.5,613.93 212.8,616.3 214.3,616.23 215.8,614.01 216.2,613.23 217.3,616.76 218.8,615.13 220.3,615.23 220.8,617.91 221.8,615.67 223.3,617.36 224.8,614.97 225.4,616.85 226.3,615.82 227.8,618.81 229.2,618.19" fill="none" stroke="#222" stroke-width="1.8" stroke-linejoin="round"/>
<polyline points="68.8,615.79 70,603.91 70.3,604.31 71.7,618.96 71.8,616.35 73.3,606.97 73.5,602.71 74.6,607.55 74.8,608.35 76.3,606.4 77.8,607.66 79.3,605.48 80,607.56 80.8,606.08 82.3,607.91 83.8,607.01 85.3,607.22 86.8,604.74 88.3,607.6 89.8,605.57 90,607.33 91.3,607 92.8,605.34 94.3,608.27 95.8,606.78 97.3,608.25 98.8,606.67 100,606.97 100.3,609.12 101.8,607.44 103.3,610.17 104.6,610.5 105.8,606 107.7,573.8 109.2,574.19 109.3,572.85 110.8,578.03 111.5,577.15 112.3,578.95 113.8,576.53 115.3,581.25 116.2,581.98 116.8,579.31 118.3,577.95 118.5,580.44 119.8,580.73 120.8,586 121.3,584.74 122.8,581.47 123.1,583.02 124.3,583.54 125.4,588.35 125.8,585.95 127.3,587.23 127.7,585.65 128.8,585.79 130.3,586.95 130.8,587.9 131.8,588.1 133.1,584.61 133.3,586.91 134.8,584.15 136.2,584.2 136.3,581.81 137.8,584.76 138.5,588.36 139.3,585.32 140.8,584.93 142.3,585.67 143.8,588.28 145.3,585.42 146.2,585.34 146.8,585.19 148.3,589.59 149.2,589.62 149.8,590.77 151.3,587.29 152.3,588.92 152.8,587.34 154.3,589.6 155.4,588.51 155.8,590.11 157.3,589.29 158.5,589.52 158.8,591.81 160.3,587.21 161.5,587.96 161.8,585.91 163.3,591.4 164.6,591.95 164.8,593.6 166.3,589.56 167.7,589.38 167.8,588.97 169.3,592.17 170.8,591.36 172.3,593.98 173.1,592.91 173.8,593.14 175.3,590.94 175.4,588.68 176.8,594.67 177.7,594.86 178.3,597.11 179.8,594.61 180.8,597.28 181.3,596.07 182.8,598.65 183.8,597.11 184.3,599.72 185.8,598.46 186.9,600.15 187.3,601.7 188.8,597.33 190,594.8 190.3,596.91 191.8,598.25 193.1,597.85 193.3,599.66 194.8,597.26 196.2,598.61 196.3,596.5 197.8,598.08 199.2,594.83 199.3,597.52 200.8,597.36 202.3,601.82 203.8,599.99 205.3,602.68 205.4,601.93 206.8,601.59 208.3,604.83 208.5,602.39 209.8,603.55 211.3,601.97 211.5,600.79 212.8,603.56 214.3,603.28 214.6,604.51 215.8,601.78 217.3,603.85 217.7,601.69 218.8,604.5 220.3,603.78 220.8,606.74 221.8,603.74 223.3,602.9 223.8,604.88 224.8,603.7 226.3,604.79 226.9,607.56 227.8,606.04 229.3,608.05 230,606.01 230.8,607.58 232.3,606.85 233.1,608.66 233.8,606.56 235.3,606.4 236.2,604.95 236.8,606.35 238.3,607.16 239.2,609.37 239.8,608.06 241.3,610.01 242.3,610.56 242.8,609.86 244.3,609.48 245.4,607.64" fill="none" stroke="#7a7a7a" stroke-width="2" stroke-linejoin="round"/>
<polyline points="68.8,613.11 70,605.52 70.3,607.72 71.7,613.71 71.8,614.41 73.3,607.95 73.5,605.27 74.6,609.15 74.8,607.24 76.3,608.59 77.8,607.52 79.3,607.23 80,608.87 80.8,606.75 82.3,608.69 83.8,606.74 85.3,607.57 86.8,605.97 88.3,607.41 89.8,605.9 90,607.65 91.3,608.25 92.8,606.67 94.3,608.65 95.8,607.11 97.3,609.66 98.8,609.09 100,608.47 100.3,610.27 101.2,608.71 101.8,609.33 103.3,611.43 104.6,611.9 105.8,607.3 106.5,584.6 108.5,544.6 109.3,539.7 109.5,540.35 110.8,541.17 112.3,535.82 113.8,530.77 114.2,529.83 115.3,536.02 115.4,535.11 116.2,541.05 116.8,541.98 117.7,544.99 118.3,546.32 119.2,542.75 119.8,542.02 120.8,536.01 121.3,540.6 122.3,545.47 122.8,549.07 123.8,550.24 124.3,551.69 125.4,557.67 125.8,553.36 126.9,549.79 127.3,548.86 128.5,553.5 128.8,550.83 130.3,550.24 130.8,548.46 131.8,553.6 132.3,553.26 133.3,547.54 133.8,542.46 134.8,549.21 135.4,549.5 136.3,550.65 137.7,552.39 137.8,552.09 139.3,555.48 140,554.35 140.8,557.29 142.3,559.12 143.8,557.95 144.6,555.9 145.3,557.62 146.8,557.41 146.9,558.92 148.3,554.06 148.5,551.25 149.8,556.75 150.8,557.49 151.3,558.35 152.8,559.52 153.1,558.84 154.3,558.46 155.4,555.86 155.8,555.13 157.3,559.23 157.7,562.09 158.8,562.41 160,565.77 160.3,563.33 161.8,560.61 162.3,559.31 163.3,559.45 164.6,562.26 164.8,563.82 166.3,563.1 166.9,561.08 167.8,564.82 169.2,565.87 169.3,566.76 170.8,562.34 171.5,560.73 172.3,564.31 173.8,565.73 175.3,566.22 176.2,563.52 176.8,565.74 178.3,571.19 178.5,570.89 179.8,571.78 180.8,568.97 181.3,570.53 182.8,574.81 183.1,574.96 184.3,575.76 185.4,578.98 185.8,576.88 187.3,576.7 187.7,578.04 188.8,577.55 190,582.14 190.3,580.05 191.8,578.67 192.3,579.49 193.3,580.1 194.6,584.21 194.8,582.39 196.3,582.51 196.9,579.74 197.8,583.92 199.2,584.37 199.3,584.22 200.8,589.01 201.5,588.69 202.3,588.97 203.8,584.86 205.3,586.46 206.2,589.35 206.8,587.77 208.3,587.33 208.5,586.17 209.8,588.36 210.8,587.58 211.3,589.08 212.8,587.48 213.1,588.69 214.3,588.74 215.4,591.83 215.8,590.7 217.3,594.18 217.7,592 218.8,595.53 220,596.99 220.3,594.11 221.8,592.52 222.3,591.84 223.3,591.86 224.6,594.98 224.8,595.24 226.3,591.76 226.9,590.43 227.8,593.1 229.2,596.78 229.3,598.93 230.8,595.34 231.5,596.93 232.3,596.02 233.8,598.03 235.3,597.35 236.2,599.51 236.8,597.82 238.3,599.13 238.5,596.35 239.8,599.01 240.8,598.2 241.3,600.03 242.8,597.62 243.1,598.7 244.3,596.01 245.4,596.2" fill="none" stroke="#000" stroke-width="2.3" stroke-linejoin="round"/>
<text x="255.4" y="601.5" font-family="'Liberation Serif', serif" font-size="9" font-weight="bold" fill="#000" textLength="26.4" lengthAdjust="spacingAndGlyphs">Control</text>
<text x="255.4" y="611" font-family="'Liberation Serif', serif" font-size="9" font-weight="bold" fill="#000" textLength="33.6" lengthAdjust="spacingAndGlyphs">Apelin-13</text>
<text x="237.9" y="623" font-family="'Liberation Serif', serif" font-size="7" font-weight="bold" fill="#000" textLength="39.1" lengthAdjust="spacingAndGlyphs">Wortmannin</text>
<text x="237.9" y="631" font-family="'Liberation Serif', serif" font-size="7" font-weight="bold" fill="#000" textLength="76.1" lengthAdjust="spacingAndGlyphs">Apelin-13 + Wortmannin</text>
<line x1="366.2" y1="543" x2="366.2" y2="661.5" stroke="#000" stroke-width="1.7" stroke-linecap="butt"/>
<line x1="365.4" y1="660.8" x2="495" y2="660.8" stroke="#000" stroke-width="1.7" stroke-linecap="butt"/>
<line x1="362.6" y1="660.8" x2="366.2" y2="660.8" stroke="#000" stroke-width="1.3" stroke-linecap="butt"/>
<text x="355.95" y="663.6" font-family="'Liberation Serif', serif" font-size="8" font-weight="bold" fill="#000" textLength="4.25" lengthAdjust="spacingAndGlyphs">0</text>
<line x1="362.6" y1="641.27" x2="366.2" y2="641.27" stroke="#000" stroke-width="1.3" stroke-linecap="butt"/>
<text x="351.7" y="644.07" font-family="'Liberation Serif', serif" font-size="8" font-weight="bold" fill="#000" textLength="8.5" lengthAdjust="spacingAndGlyphs">20</text>
<line x1="362.6" y1="621.73" x2="366.2" y2="621.73" stroke="#000" stroke-width="1.3" stroke-linecap="butt"/>
<text x="351.7" y="624.53" font-family="'Liberation Serif', serif" font-size="8" font-weight="bold" fill="#000" textLength="8.5" lengthAdjust="spacingAndGlyphs">40</text>
<line x1="362.6" y1="602.2" x2="366.2" y2="602.2" stroke="#000" stroke-width="1.3" stroke-linecap="butt"/>
<text x="351.7" y="605" font-family="'Liberation Serif', serif" font-size="8" font-weight="bold" fill="#000" textLength="8.5" lengthAdjust="spacingAndGlyphs">60</text>
<line x1="362.6" y1="582.67" x2="366.2" y2="582.67" stroke="#000" stroke-width="1.3" stroke-linecap="butt"/>
<text x="351.7" y="585.47" font-family="'Liberation Serif', serif" font-size="8" font-weight="bold" fill="#000" textLength="8.5" lengthAdjust="spacingAndGlyphs">80</text>
<line x1="362.6" y1="563.13" x2="366.2" y2="563.13" stroke="#000" stroke-width="1.3" stroke-linecap="butt"/>
<text x="347.45" y="565.93" font-family="'Liberation Serif', serif" font-size="8" font-weight="bold" fill="#000" textLength="12.75" lengthAdjust="spacingAndGlyphs">100</text>
<line x1="362.6" y1="543.6" x2="366.2" y2="543.6" stroke="#000" stroke-width="1.3" stroke-linecap="butt"/>
<text x="347.45" y="546.4" font-family="'Liberation Serif', serif" font-size="8" font-weight="bold" fill="#000" textLength="12.75" lengthAdjust="spacingAndGlyphs">120</text>
<line x1="382.5" y1="563.13" x2="382.5" y2="553.4" stroke="#222" stroke-width="1.1" stroke-linecap="butt"/>
<line x1="379.3" y1="553.4" x2="385.7" y2="553.4" stroke="#222" stroke-width="1.1" stroke-linecap="butt"/>
<rect x="375.8" y="563.13" width="13.4" height="97.67" fill="#000"/>
<line x1="414.45" y1="615.87" x2="414.45" y2="612.4" stroke="#222" stroke-width="1.1" stroke-linecap="butt"/>
<line x1="411.25" y1="612.4" x2="417.65" y2="612.4" stroke="#222" stroke-width="1.1" stroke-linecap="butt"/>
<rect x="407.8" y="615.87" width="13.3" height="44.93" fill="#000"/>
<line x1="446.35" y1="611.97" x2="446.35" y2="605.8" stroke="#222" stroke-width="1.1" stroke-linecap="butt"/>
<line x1="443.15" y1="605.8" x2="449.55" y2="605.8" stroke="#222" stroke-width="1.1" stroke-linecap="butt"/>
<rect x="439.9" y="611.97" width="12.9" height="48.83" fill="#000"/>
<line x1="478.45" y1="621.73" x2="478.45" y2="616.2" stroke="#222" stroke-width="1.1" stroke-linecap="butt"/>
<line x1="475.25" y1="616.2" x2="481.65" y2="616.2" stroke="#222" stroke-width="1.1" stroke-linecap="butt"/>
<rect x="472.1" y="621.73" width="12.7" height="39.07" fill="#000"/>
<line x1="377.7" y1="535.4" x2="429.6" y2="535.4" stroke="#333" stroke-width="1.1" stroke-linecap="butt"/>
<text x="392.6" y="535.2" font-family="'Liberation Sans', sans-serif" font-size="12" font-weight="bold" fill="#555" textLength="17.1" lengthAdjust="spacingAndGlyphs">***</text>
<line x1="377.7" y1="547.5" x2="452.7" y2="547.5" stroke="#333" stroke-width="1.1" stroke-linecap="butt"/>
<text x="404.6" y="547.2" font-family="'Liberation Sans', sans-serif" font-size="12" font-weight="bold" fill="#555" textLength="17.4" lengthAdjust="spacingAndGlyphs">***</text>
<line x1="406.3" y1="598.8" x2="493" y2="598.8" stroke="#444" stroke-width="1.2" stroke-linecap="butt"/>
<text x="445.4" y="592.8" font-family="'Liberation Serif', serif" font-size="13.5" font-weight="bold" fill="#000" textLength="10.8" lengthAdjust="spacingAndGlyphs">ns</text>
<text x="323.8" y="671.4" font-family="'Liberation Serif', serif" font-size="7.4" font-weight="bold" fill="#000" textLength="33.2" lengthAdjust="spacingAndGlyphs">Apelin-13</text>
<text x="322.4" y="682.7" font-family="'Liberation Serif', serif" font-size="7.4" font-weight="bold" fill="#000" textLength="43.3" lengthAdjust="spacingAndGlyphs">Wortmannin</text>
<line x1="380.3" y1="669" x2="382.7" y2="669" stroke="#000" stroke-width="1" stroke-linecap="butt"/>
<line x1="410.3" y1="669" x2="414.3" y2="669" stroke="#000" stroke-width="1" stroke-linecap="butt"/>
<line x1="412.3" y1="667" x2="412.3" y2="671" stroke="#000" stroke-width="1" stroke-linecap="butt"/>
<line x1="441.8" y1="669" x2="444.2" y2="669" stroke="#000" stroke-width="1" stroke-linecap="butt"/>
<line x1="474.9" y1="669" x2="478.9" y2="669" stroke="#000" stroke-width="1" stroke-linecap="butt"/>
<line x1="476.9" y1="667" x2="476.9" y2="671" stroke="#000" stroke-width="1" stroke-linecap="butt"/>
<line x1="380.3" y1="679.6" x2="382.7" y2="679.6" stroke="#000" stroke-width="1" stroke-linecap="butt"/>
<line x1="411.1" y1="679.6" x2="413.5" y2="679.6" stroke="#000" stroke-width="1" stroke-linecap="butt"/>
<line x1="441" y1="679.6" x2="445" y2="679.6" stroke="#000" stroke-width="1" stroke-linecap="butt"/>
<line x1="443" y1="677.6" x2="443" y2="681.6" stroke="#000" stroke-width="1" stroke-linecap="butt"/>
<line x1="474.9" y1="679.6" x2="478.9" y2="679.6" stroke="#000" stroke-width="1" stroke-linecap="butt"/>
<line x1="476.9" y1="677.6" x2="476.9" y2="681.6" stroke="#000" stroke-width="1" stroke-linecap="butt"/>
<text transform="translate(337.8,652) rotate(-90)" x="0" y="0" font-family="'Liberation Serif', serif" font-size="9.4" font-weight="bold" fill="#000" textLength="106" lengthAdjust="spacingAndGlyphs">|Ca<tspan font-size="6" dy="-3.5">2+</tspan><tspan dy="3.5"> | (% of control)</tspan></text>
</svg>
</body></html>
